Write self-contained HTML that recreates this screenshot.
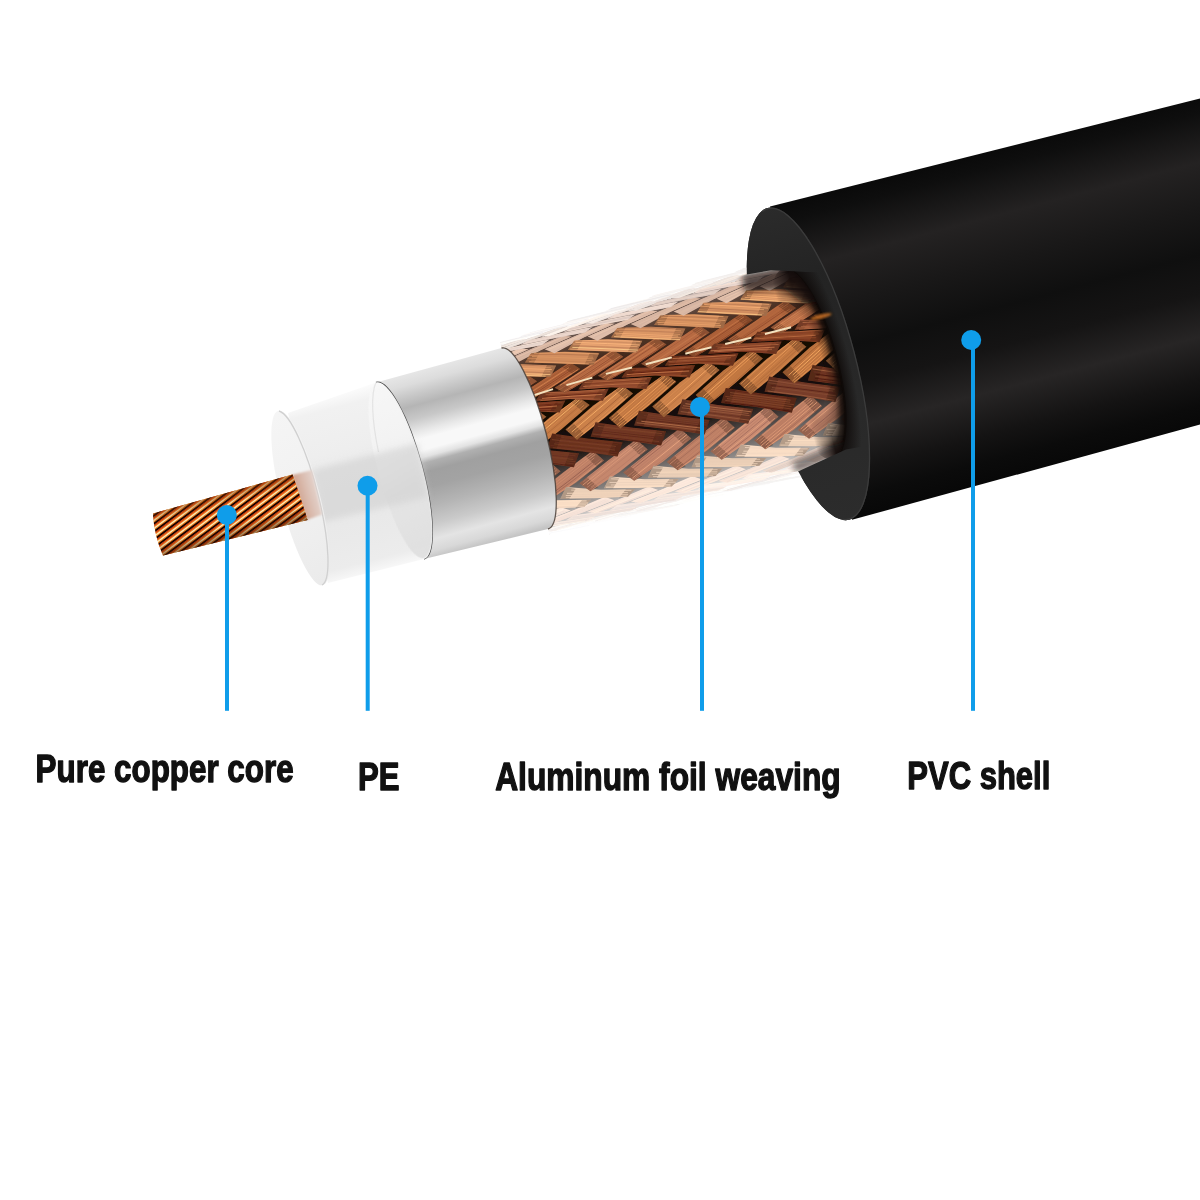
<!DOCTYPE html>
<html><head><meta charset="utf-8"><title>Cable structure</title>
<style>
html,body{margin:0;padding:0;background:#fff}
body{width:1200px;height:1200px;overflow:hidden;font-family:"Liberation Sans",sans-serif}
svg{display:block}
.t{font-family:"Liberation Sans",sans-serif;font-weight:bold;font-size:38.5px;fill:#111;stroke:#111;stroke-width:1.35px;stroke-linejoin:round}
</style></head><body>
<svg width="1200" height="1200" viewBox="0 0 1200 1200">
<defs>
<linearGradient id="gCap" gradientUnits="userSpaceOnUse" x1="280" y1="415" x2="322" y2="580">
 <stop offset="0" stop-color="#f5f5f5"/><stop offset="0.5" stop-color="#f1f1f1"/><stop offset="1" stop-color="#ebebeb"/>
</linearGradient>
<clipPath id="cCore"><path d="M153,513.5 L292.5,474.5 Q300,495 307.5,520 L163,555.5 Q154,535 153,513.5 Z"/></clipPath>

<linearGradient id="gCoreShade" gradientUnits="userSpaceOnUse" x1="225" y1="494" x2="236" y2="537">
 <stop offset="0" stop-color="#7a3208" stop-opacity="0.45"/><stop offset="0.25" stop-color="#7a3208" stop-opacity="0"/>
 <stop offset="0.7" stop-color="#3a1402" stop-opacity="0"/><stop offset="1" stop-color="#3a1402" stop-opacity="0.5"/>
</linearGradient>

<linearGradient id="gShell" gradientUnits="userSpaceOnUse" x1="1000" y1="148.6" x2="1080.7" y2="457.1">
 <stop offset="0" stop-color="#0a0a0a"/>
 <stop offset="0.05" stop-color="#0e0e0e"/>
 <stop offset="0.20" stop-color="#242222"/>
 <stop offset="0.34" stop-color="#191818"/>
 <stop offset="0.48" stop-color="#0f0f0f"/>
 <stop offset="0.60" stop-color="#151414"/>
 <stop offset="0.73" stop-color="#272525"/>
 <stop offset="0.86" stop-color="#141313"/>
 <stop offset="0.94" stop-color="#0b0b0b"/>
 <stop offset="1" stop-color="#080808"/>
</linearGradient>
<linearGradient id="gFace" gradientUnits="userSpaceOnUse" x1="760" y1="210" x2="850" y2="520">
 <stop offset="0" stop-color="#2b2b2b"/>
 <stop offset="0.25" stop-color="#232323"/>
 <stop offset="0.8" stop-color="#2a2a2a"/>
 <stop offset="1" stop-color="#2c2c2c"/>
</linearGradient>
<linearGradient id="gSilver" gradientUnits="userSpaceOnUse" x1="440" y1="364.9" x2="488.5" y2="543.4"><stop offset="0" stop-color="#e6e6e6"/><stop offset="0.06" stop-color="#dcdcdc"/><stop offset="0.115" stop-color="#c9c9c9"/><stop offset="0.176" stop-color="#b5b5b5"/><stop offset="0.246" stop-color="#c8c8c8"/><stop offset="0.317" stop-color="#e8e8e8"/><stop offset="0.36" stop-color="#f8f8f8"/><stop offset="0.42" stop-color="#f8f8f8"/><stop offset="0.458" stop-color="#e2e2e2"/><stop offset="0.49" stop-color="#b0b0b0"/><stop offset="0.54" stop-color="#a0a0a0"/><stop offset="0.62" stop-color="#a3a3a3"/><stop offset="0.72" stop-color="#b4b4b4"/><stop offset="0.82" stop-color="#cacaca"/><stop offset="0.9" stop-color="#e4e4e4"/><stop offset="0.96" stop-color="#d8d8d8"/><stop offset="1.0" stop-color="#c4c4c4"/></linearGradient>
<linearGradient id="gPE" gradientUnits="userSpaceOnUse" x1="330" y1="396" x2="376" y2="572">
 <stop offset="0" stop-color="#fbfbfb"/>
 <stop offset="0.07" stop-color="#f1f1f1"/>
 <stop offset="0.3" stop-color="#eeeeee"/>
 <stop offset="0.42" stop-color="#eaeaea"/>
 <stop offset="0.6" stop-color="#e8e8e8"/>
 <stop offset="0.8" stop-color="#eaeaea"/>
 <stop offset="0.93" stop-color="#ececec"/>
 <stop offset="1" stop-color="#f8f8f8"/>
</linearGradient>
<radialGradient id="gAO" cx="0.5" cy="0.5" r="0.5"><stop offset="0.70" stop-color="#100c0b" stop-opacity="0.95"/><stop offset="0.82" stop-color="#100c0b" stop-opacity="0.55"/><stop offset="1" stop-color="#100c0b" stop-opacity="0"/></radialGradient><clipPath id="cBraid"><polygon points="884.5,654.1 732.3,73.7 494.9,322.3 554.6,554.7"/><ellipse cx="808.4" cy="363.9" rx="28.8585" ry="97.46549999999999" transform="rotate(-14.7 808.4 363.9)"/></clipPath><linearGradient id="gBraidBg" gradientUnits="userSpaceOnUse" x1="623.9" y1="310.9" x2="673.7" y2="499.4"><stop offset="0.000" stop-color="#e2dedc"/><stop offset="0.000" stop-color="#b0a6a2"/><stop offset="0.025" stop-color="#80706a"/><stop offset="0.062" stop-color="#604c44"/><stop offset="0.143" stop-color="#54382a"/><stop offset="0.255" stop-color="#3c2216"/><stop offset="0.345" stop-color="#1a0c06"/><stop offset="0.465" stop-color="#140a05"/><stop offset="0.615" stop-color="#180e0a"/><stop offset="0.760" stop-color="#56504e"/><stop offset="0.880" stop-color="#969290"/><stop offset="0.945" stop-color="#c4c0be"/><stop offset="0.985" stop-color="#e6e4e2"/><stop offset="1.000" stop-color="#f6f5f4"/><stop offset="1.000" stop-color="#fcfcfc"/></linearGradient><filter id="fBlur3" x="-30%" y="-30%" width="160%" height="160%"><feGaussianBlur stdDeviation="3"/></filter><filter id="fSoft" x="-5%" y="-5%" width="110%" height="110%"><feGaussianBlur stdDeviation="0.45"/></filter><clipPath id="cHole"><ellipse cx="808.4" cy="363.9" rx="28.8585" ry="97.46549999999999" transform="rotate(-14.7 808.4 363.9)"/></clipPath><clipPath id="cRight"><polygon points="878.5,654.1 726.3,73.7 1000,0 1000,800"/></clipPath><radialGradient id="gHole" cx="0.5" cy="0.5" r="0.5"><stop offset="0" stop-color="#0d0806" stop-opacity="0"/><stop offset="0.50" stop-color="#0d0806" stop-opacity="0"/><stop offset="0.72" stop-color="#0d0806" stop-opacity="0.35"/><stop offset="0.88" stop-color="#0d0806" stop-opacity="0.85"/><stop offset="1" stop-color="#0d0806" stop-opacity="1"/></radialGradient><linearGradient id="gMaskR" gradientUnits="userSpaceOnUse" x1="794.9" y1="367.5" x2="812.3" y2="362.9"><stop offset="0" stop-color="#000"/><stop offset="1" stop-color="#fff"/></linearGradient><mask id="mRight" maskUnits="userSpaceOnUse" x="600" y="100" width="400" height="500"><rect x="600" y="100" width="400" height="500" fill="url(#gMaskR)"/></mask><clipPath id="cBody"><polygon points="501,347.5 880,234.4 930,440 880,452.3 548,529"/></clipPath><clipPath id="cFace"><ellipse cx="808.4" cy="363.9" rx="47.7" ry="161.1" transform="rotate(-14.7 808.4 363.9)"/></clipPath><linearGradient id="gRing" gradientUnits="userSpaceOnUse" x1="378" y1="386" x2="424" y2="556"><stop offset="0" stop-color="#f8f8f8"/><stop offset="0.42" stop-color="#f3f3f3"/><stop offset="0.6" stop-color="#e4e4e4"/><stop offset="1" stop-color="#dedede"/></linearGradient><linearGradient id="gPink" gradientUnits="userSpaceOnUse" x1="296" y1="498" x2="322" y2="491"><stop offset="0" stop-color="#cfa08c"/><stop offset="0.5" stop-color="#dcc0b4"/><stop offset="1" stop-color="#e8dcd8"/></linearGradient><filter id="fBlur1" x="-20%" y="-20%" width="140%" height="140%"><feGaussianBlur stdDeviation="1"/></filter></defs>
<rect width="1200" height="1200" fill="#fff"/>
<path d="M770,206.6 L1200,98.5 L1200,424.5 L852,519.8 Z" fill="url(#gShell)"/>
<ellipse cx="808.4" cy="363.9" rx="47.7" ry="161.1" transform="rotate(-14.7 808.4 363.9)" fill="url(#gFace)"/>
<ellipse cx="808.4" cy="363.9" rx="41.022" ry="138.546" transform="rotate(-14.7 808.4 363.9)" fill="url(#gAO)"/>
<ellipse cx="808.4" cy="363.9" rx="28.8585" ry="97.46549999999999" transform="rotate(-14.7 808.4 363.9)" fill="#0f0a08"/>
<g clip-path="url(#cBraid)"><g filter="url(#fSoft)">
<path d="M470,356.7 L870,237.4 L925,441.9 L520,535.5 Z" fill="url(#gBraidBg)"/>
<polygon points="488.1,545.1 520.7,539 553.2,532.9 545.1,535.4 512.7,542.1 480.1,548.2" fill="#f9f7f5"/>
<path d="M490,544.9 L520.1,539.3 L550.3,533.6" stroke="#fcfaf7" stroke-width="1" fill="none" opacity="0.8"/>
<path d="M488.4,545.6 L519.2,539.9 L549.9,534.1" stroke="#ececee" stroke-width="1" fill="none" opacity="0.8"/>
<path d="M487.5,546.2 L517.2,540.6 L546.9,535" stroke="#f2f1f1" stroke-width="1" fill="none" opacity="0.8"/>
<path d="M486.4,546.8 L515.1,541.4 L543.7,535.8" stroke="#fffffa" stroke-width="1" fill="none" opacity="0.8"/>
<polygon points="501.7,541.9 533.6,533.1 565.3,523.8 574.1,523.7 542.2,532.4 510.4,541.1" fill="#fcf6f2"/>
<path d="M506.1,540.9 L535.9,532.7 L565.7,524.1" stroke="#fff9f4" stroke-width="1" fill="none" opacity="0.8"/>
<path d="M509.4,540.4 L537.7,532.6 L566,524.8" stroke="#fffbf5" stroke-width="1" fill="none" opacity="0.8"/>
<path d="M510.6,540.5 L540.6,532.2 L570.5,524" stroke="#fffcf6" stroke-width="1" fill="none" opacity="0.8"/>
<path d="M512.3,540.4 L541.9,532.3 L571.5,524.2" stroke="#eeeaea" stroke-width="1" fill="none" opacity="0.8"/>
<polygon points="532,535 564.6,528.9 597.1,522.8 589,525.4 556.6,532 524,538.1" fill="#ffffff"/>
<path d="M533.5,534.9 L562.9,529.4 L592.4,523.9" stroke="#ffffff" stroke-width="1" fill="none" opacity="0.8"/>
<path d="M532.8,535.4 L561,530.2 L589.3,524.9" stroke="#ffffff" stroke-width="1" fill="none" opacity="0.8"/>
<path d="M531.2,536.1 L560.5,530.7 L589.8,525.2" stroke="#ffffff" stroke-width="1" fill="none" opacity="0.8"/>
<path d="M529.6,536.8 L559.6,531.2 L589.5,525.3" stroke="#fafafb" stroke-width="1" fill="none" opacity="0.8"/>
<polygon points="545.6,531.8 577.5,523 609.2,513.6 618,513.5 586.1,522.3 554.2,531.1" fill="#f7f1ed"/>
<path d="M551.7,530.3 L579.9,522.5 L608.1,514.4" stroke="#faf4ef" stroke-width="1" fill="none" opacity="0.8"/>
<path d="M550.4,531.1 L580.2,522.9 L609.9,514.7" stroke="#f4eeeb" stroke-width="1" fill="none" opacity="0.8"/>
<path d="M552.8,530.8 L582.3,522.7 L611.7,514.6" stroke="#f9f3ee" stroke-width="1" fill="none" opacity="0.8"/>
<path d="M557.8,529.9 L585.6,522.2 L613.4,514.6" stroke="#fffbf4" stroke-width="1" fill="none" opacity="0.8"/>
<polygon points="575.9,524.9 608.4,518.8 641,512.8 632.9,515.3 600.4,521.9 567.9,528" fill="#ffffff"/>
<path d="M580.1,524.3 L608.3,519 L636.5,513.8" stroke="#fbfafb" stroke-width="1" fill="none" opacity="0.8"/>
<path d="M577.4,525.2 L605.2,520 L632.9,514.9" stroke="#ffffff" stroke-width="1" fill="none" opacity="0.8"/>
<path d="M573.9,526.3 L603.1,520.8 L632.3,515.4" stroke="#fcfcfc" stroke-width="1" fill="none" opacity="0.8"/>
<path d="M573.2,526.8 L602.1,521.4 L630.9,515.8" stroke="#fefdfd" stroke-width="1" fill="none" opacity="0.8"/>
<polygon points="485.7,535.7 518.8,531.6 551.7,526.8 543.8,530.6 511.1,535.9 478.2,540.8" fill="#eee0d8"/>
<path d="M489.4,536 L517.5,532.2 L545.5,528.1" stroke="#e3d6d2" stroke-width="1" fill="none" opacity="0.8"/>
<path d="M487.3,537.5 L516.9,533.1 L546.6,528.8" stroke="#e4d8d3" stroke-width="1" fill="none" opacity="0.8"/>
<path d="M482.7,539 L512.7,534.5 L542.8,530.1" stroke="#f9e9de" stroke-width="1" fill="none" opacity="0.8"/>
<path d="M479.4,540.2 L510.6,535.6 L541.6,530.8" stroke="#e1d5d1" stroke-width="1" fill="none" opacity="0.8"/>
<polygon points="589.5,521.7 621.3,512.9 653,503.5 661.8,503.4 630,512.2 598.1,521" fill="#fffaf6"/>
<path d="M592.3,521.1 L621,513.2 L649.7,505" stroke="#fffffd" stroke-width="1" fill="none" opacity="0.8"/>
<path d="M595.3,520.7 L623.3,513 L651.3,505.2" stroke="#fbf5f3" stroke-width="1" fill="none" opacity="0.8"/>
<path d="M595.3,521.1 L625.4,512.8 L655.5,504.5" stroke="#f3efef" stroke-width="1" fill="none" opacity="0.8"/>
<path d="M598.1,520.8 L628.4,512.4 L658.6,504.1" stroke="#fffdf8" stroke-width="1" fill="none" opacity="0.8"/>
<polygon points="619.7,514.7 652.3,508.7 684.9,502.7 676.8,505.3 644.3,511.9 611.8,517.9" fill="#f8f6f4"/>
<path d="M619,515.1 L649.1,509.5 L679.3,503.9" stroke="#f3f1f1" stroke-width="1" fill="none" opacity="0.8"/>
<path d="M621.8,515 L649.5,509.9 L677.2,504.8" stroke="#f4f3f2" stroke-width="1" fill="none" opacity="0.8"/>
<path d="M617.2,516.3 L647.2,510.7 L677.2,505.2" stroke="#fcf9f6" stroke-width="1" fill="none" opacity="0.8"/>
<path d="M615.9,516.9 L645.4,511.5 L674.9,505.7" stroke="#fbf9f6" stroke-width="1" fill="none" opacity="0.8"/>
<polygon points="499.3,532.4 530.3,520.4 561,507.2 570.7,510.5 539.7,522.5 508.4,533.7" fill="#fce8dc"/>
<path d="M503,531.6 L531.7,520.6 L560.2,508.8" stroke="#ffeddf" stroke-width="1" fill="none" opacity="0.8"/>
<path d="M504,532.7 L533.7,521.3 L563.3,509.6" stroke="#fff3e3" stroke-width="1" fill="none" opacity="0.8"/>
<path d="M507.7,532.6 L536.1,521.8 L564.4,510.8" stroke="#eedcd4" stroke-width="1" fill="none" opacity="0.8"/>
<path d="M509.4,532.9 L538.1,522.4 L566.6,511.4" stroke="#eeddd5" stroke-width="1" fill="none" opacity="0.8"/>
<polygon points="529.6,525.5 562.6,521.4 595.5,516.6 587.7,520.4 555,525.8 522.1,530.6" fill="#f8eae2"/>
<path d="M532.1,525.9 L563.2,521.7 L594.2,517.2" stroke="#fcede4" stroke-width="1" fill="none" opacity="0.8"/>
<path d="M529.3,527.5 L559.2,523.1 L589,518.8" stroke="#f4e7e0" stroke-width="1" fill="none" opacity="0.8"/>
<path d="M528.7,528.4 L557.8,524.2 L586.8,520" stroke="#ebdfdb" stroke-width="1" fill="none" opacity="0.8"/>
<path d="M523.4,530 L554.3,525.5 L585.1,520.7" stroke="#fff5e9" stroke-width="1" fill="none" opacity="0.8"/>
<polygon points="633.3,511.6 665.2,502.7 696.9,493.3 705.7,493.3 673.8,502.1 642,510.9" fill="#f8f2ee"/>
<path d="M636.8,510.8 L665.9,502.8 L695,494.4" stroke="#f2edeb" stroke-width="1" fill="none" opacity="0.8"/>
<path d="M638.5,510.8 L668.6,502.5 L698.7,494.1" stroke="#f4eeec" stroke-width="1" fill="none" opacity="0.8"/>
<path d="M641.8,510.3 L671.4,502.1 L700.9,493.9" stroke="#f4efec" stroke-width="1" fill="none" opacity="0.8"/>
<path d="M644.9,509.9 L674.7,501.6 L704.5,493.4" stroke="#f9f3ef" stroke-width="1" fill="none" opacity="0.8"/>
<polygon points="663.6,504.6 696.2,498.6 728.8,492.6 720.6,495.2 688.2,501.8 655.6,507.8" fill="#fffffe"/>
<path d="M664.2,504.7 L695.4,499 L726.6,493.2" stroke="#ffffff" stroke-width="1" fill="none" opacity="0.8"/>
<path d="M661.9,505.6 L693.3,499.8 L724.8,494" stroke="#fffffd" stroke-width="1" fill="none" opacity="0.8"/>
<path d="M662.3,506 L692.8,500.3 L723.2,494.6" stroke="#fdfcfb" stroke-width="1" fill="none" opacity="0.8"/>
<path d="M658.4,507.1 L687.9,501.7 L717.3,496" stroke="#fffffd" stroke-width="1" fill="none" opacity="0.8"/>
<polygon points="543.1,522.1 574.1,510.1 604.8,496.8 614.5,500.2 583.5,512.3 552.3,523.5" fill="#fae6da"/>
<path d="M545.1,522.1 L574.9,510.5 L604.4,498.2" stroke="#ffeadd" stroke-width="1" fill="none" opacity="0.8"/>
<path d="M551.1,521.2 L578.7,510.5 L606.3,499.6" stroke="#f3e0d6" stroke-width="1" fill="none" opacity="0.8"/>
<path d="M549.5,523.1 L579,511.8 L608.3,500.4" stroke="#f2dfd6" stroke-width="1" fill="none" opacity="0.8"/>
<path d="M555.3,522.1 L582.2,512 L609.1,501.6" stroke="#f2dfd6" stroke-width="1" fill="none" opacity="0.8"/>
<polygon points="573.4,515.2 606.5,511.2 639.4,506.5 631.6,510.3 598.8,515.6 565.9,520.4" fill="#f2e4dc"/>
<path d="M576.8,515.6 L605.9,511.7 L635,507.5" stroke="#fbebe1" stroke-width="1" fill="none" opacity="0.8"/>
<path d="M572.5,517.3 L604.2,512.8 L635.8,508.3" stroke="#ecdfd9" stroke-width="1" fill="none" opacity="0.8"/>
<path d="M573,518.2 L603.1,513.8 L633.1,509.4" stroke="#eee0da" stroke-width="1" fill="none" opacity="0.8"/>
<path d="M569.1,519.5 L599.8,515.1 L630.4,510.3" stroke="#efe2db" stroke-width="1" fill="none" opacity="0.8"/>
<polygon points="677.2,501.4 709.1,492.6 740.7,483.2 749.5,483.2 717.7,492 685.9,500.8" fill="#fffefa"/>
<path d="M679.1,501.1 L710.5,492.4 L741.8,483.2" stroke="#ffffff" stroke-width="1" fill="none" opacity="0.8"/>
<path d="M685,500 L712,492.5 L739.1,485" stroke="#fffcf9" stroke-width="1" fill="none" opacity="0.8"/>
<path d="M687.5,499.7 L714.5,492.2 L741.5,484.7" stroke="#fcf7f5" stroke-width="1" fill="none" opacity="0.8"/>
<path d="M688.6,499.8 L716.4,492.1 L744.2,484.4" stroke="#fffffc" stroke-width="1" fill="none" opacity="0.8"/>
<polygon points="707.5,494.5 740.1,488.5 772.7,482.6 764.5,485.2 732.1,491.7 699.5,497.7" fill="#fefcfa"/>
<path d="M708,494.7 L738.9,489 L769.9,483.3" stroke="#f7f6f6" stroke-width="1" fill="none" opacity="0.8"/>
<path d="M704.8,495.7 L735.7,490 L766.6,484.3" stroke="#f8f7f7" stroke-width="1" fill="none" opacity="0.8"/>
<path d="M706.8,495.8 L737.1,490.2 L767.4,484.5" stroke="#ffffff" stroke-width="1" fill="none" opacity="0.8"/>
<path d="M704.1,496.7 L732.5,491.5 L760.8,486" stroke="#ffffff" stroke-width="1" fill="none" opacity="0.8"/>
<polygon points="478.7,508.4 513.4,510.7 547.4,510.1 540.4,517.4 506.8,519.1 472.9,519.8" fill="#f9ddc5"/>
<polygon points="478.7,508.4 488.2,510.1 481.9,519.6 472.9,519.8" fill="#1a0a04" opacity="0.28"/>
<polygon points="538.3,510.3 547.4,510.1 540.4,517.4 531.6,518.3" fill="#1a0a04" opacity="0.28"/>
<path d="M481.4,510.9 L514.1,511.8 L546.5,511.2" stroke="#ffe3c9" stroke-width="1" fill="none" opacity="0.8"/>
<path d="M477.8,514.1 L510.6,513.9 L543.2,513.3" stroke="#fee1c8" stroke-width="1" fill="none" opacity="0.8"/>
<path d="M478.2,516.6 L509.6,516 L540.9,515.4" stroke="#ffe8cc" stroke-width="1" fill="none" opacity="0.8"/>
<path d="M477,518.7 L508.3,518.1 L539.5,516.8" stroke="#f2d7c1" stroke-width="1" fill="none" opacity="0.8"/>
<polygon points="586.9,511.9 617.9,499.8 648.6,486.4 658.3,489.9 627.3,502 596.1,513.3" fill="#fbe7db"/>
<path d="M590.5,511.2 L618.3,500.4 L646,488.9" stroke="#f6e3d8" stroke-width="1" fill="none" opacity="0.8"/>
<path d="M591.4,512.3 L620.6,501 L649.7,489.5" stroke="#ffeedf" stroke-width="1" fill="none" opacity="0.8"/>
<path d="M593.6,512.8 L622.2,501.8 L650.8,490.6" stroke="#fff1e1" stroke-width="1" fill="none" opacity="0.8"/>
<path d="M599.1,511.9 L626.1,501.7 L653,491.2" stroke="#eddbd3" stroke-width="1" fill="none" opacity="0.8"/>
<polygon points="617.2,505 650.3,501 683.2,496.3 675.4,500.2 642.7,505.5 609.7,510.2" fill="#f8eae2"/>
<path d="M620.9,505.3 L651.5,501.3 L682,496.9" stroke="#f2e5df" stroke-width="1" fill="none" opacity="0.8"/>
<path d="M615.9,507.2 L646.8,502.8 L677.6,498.4" stroke="#f6e8e1" stroke-width="1" fill="none" opacity="0.8"/>
<path d="M615.1,508.2 L644.7,503.9 L674.3,499.7" stroke="#eadedb" stroke-width="1" fill="none" opacity="0.8"/>
<path d="M611,509.6 L643.4,505 L675.8,499.9" stroke="#eee1dd" stroke-width="1" fill="none" opacity="0.8"/>
<polygon points="721.1,491.3 752.9,482.5 784.6,473 793.4,473 761.6,481.9 729.7,490.7" fill="#f4eeea"/>
<path d="M727.2,489.9 L754.3,482.3 L781.4,474.5" stroke="#e9e4e4" stroke-width="1" fill="none" opacity="0.8"/>
<path d="M726.9,490.4 L756.6,482.1 L786.3,473.8" stroke="#efeae7" stroke-width="1" fill="none" opacity="0.8"/>
<path d="M728.3,490.5 L757.6,482.3 L786.8,474.2" stroke="#f7f0ec" stroke-width="1" fill="none" opacity="0.8"/>
<path d="M730.5,490.3 L760.9,481.8 L791.3,473.4" stroke="#efeae8" stroke-width="1" fill="none" opacity="0.8"/>
<polygon points="751.4,484.4 783.9,478.5 816.5,472.5 808.4,475.1 776,481.7 743.4,487.7" fill="#f7f5f3"/>
<path d="M753.3,484.3 L782.5,478.9 L811.8,473.6" stroke="#f4f2f1" stroke-width="1" fill="none" opacity="0.8"/>
<path d="M748.8,485.6 L780.7,479.7 L812.6,473.9" stroke="#f4f2f1" stroke-width="1" fill="none" opacity="0.8"/>
<path d="M749.5,485.9 L778.5,480.6 L807.4,475.3" stroke="#f4f2f1" stroke-width="1" fill="none" opacity="0.8"/>
<path d="M748.6,486.5 L777.4,481.2 L806.2,475.6" stroke="#f5f4f2" stroke-width="1" fill="none" opacity="0.8"/>
<polygon points="492.1,504.5 520.5,482.6 549.1,461.5 560.5,471.3 532.2,493.5 502.9,512.3" fill="#c2846a"/>
<polygon points="492.1,504.5 499.7,498.7 511,508.4 502.9,512.3" fill="#1a0a04" opacity="0.28"/>
<polygon points="541.5,466.7 549.1,461.5 560.5,471.3 553,477.2" fill="#1a0a04" opacity="0.28"/>
<path d="M495.2,503.6 L520.9,483.7 L546.6,464.3" stroke="#ba7d66" stroke-width="1" fill="none" opacity="0.8"/>
<path d="M497.8,504.4 L523.6,484.5 L549.4,464.7" stroke="#aa705d" stroke-width="1" fill="none" opacity="0.8"/>
<path d="M498.7,506.5 L524.3,486.7 L549.8,466.7" stroke="#9a6254" stroke-width="1" fill="none" opacity="0.8"/>
<path d="M499.9,508.4 L526.3,488 L552.7,467.3" stroke="#e5a17d" stroke-width="1" fill="none" opacity="0.8"/>
<path d="M503.9,508.2 L529.3,488.6 L554.6,468.7" stroke="#e6a37e" stroke-width="1" fill="none" opacity="0.8"/>
<path d="M504.7,509.4 L530.9,490.2 L556.8,469.9" stroke="#be8168" stroke-width="1" fill="none" opacity="0.8"/>
<path d="M502.8,511.7 L529.7,493.9 L556,473.4" stroke="#d19072" stroke-width="1" fill="none" opacity="0.8"/>
<polygon points="522.4,497.8 557.1,500.2 591.1,499.7 584.2,507.1 550.5,508.7 516.6,509.3" fill="#f9ddc5"/>
<polygon points="522.4,497.8 531.9,499.5 525.6,509.1 516.6,509.3" fill="#1a0a04" opacity="0.28"/>
<polygon points="582.1,499.9 591.1,499.7 584.2,507.1 575.4,507.9" fill="#1a0a04" opacity="0.28"/>
<path d="M526.4,500.5 L556.7,501.3 L586.6,500.9" stroke="#ffe3c9" stroke-width="1" fill="none" opacity="0.8"/>
<path d="M523.8,504 L555.9,503.4 L588.1,503" stroke="#fbdfc6" stroke-width="1" fill="none" opacity="0.8"/>
<path d="M519.1,506.2 L552.6,505.5 L586.2,504.9" stroke="#ffe4c9" stroke-width="1" fill="none" opacity="0.8"/>
<path d="M517.6,508.3 L551.2,507.7 L584.6,506.4" stroke="#eed3bf" stroke-width="1" fill="none" opacity="0.8"/>
<polygon points="630.8,501.6 661.7,489.5 692.3,476 702.1,479.6 671.1,491.8 639.9,503.1" fill="#fbe7db"/>
<path d="M632.8,501.6 L663.3,489.6 L693.5,476.7" stroke="#ffefe0" stroke-width="1" fill="none" opacity="0.8"/>
<path d="M634.9,502.2 L663.4,491 L692,479.8" stroke="#ffebde" stroke-width="1" fill="none" opacity="0.8"/>
<path d="M640.8,501.4 L667.3,491 L693.8,480.6" stroke="#fde9dc" stroke-width="1" fill="none" opacity="0.8"/>
<path d="M642.9,501.7 L671.9,490.7 L700.7,479.3" stroke="#ffeddf" stroke-width="1" fill="none" opacity="0.8"/>
<polygon points="661,494.8 694.1,490.8 727.1,486.2 719.3,490.1 686.5,495.3 653.6,500" fill="#f6e8e0"/>
<path d="M664,495.2 L694.8,491.2 L725.6,486.8" stroke="#fdeee4" stroke-width="1" fill="none" opacity="0.8"/>
<path d="M663.3,496.5 L693.6,492.2 L723.9,487.9" stroke="#f1e4dd" stroke-width="1" fill="none" opacity="0.8"/>
<path d="M659.4,497.9 L688.7,493.7 L717.9,489.6" stroke="#efe2dc" stroke-width="1" fill="none" opacity="0.8"/>
<path d="M655.5,499.3 L687.3,494.8 L719,489.9" stroke="#f9ebe2" stroke-width="1" fill="none" opacity="0.8"/>
<polygon points="765,481.2 796.8,472.4 828.4,462.9 837.3,462.9 805.4,471.8 773.6,480.6" fill="#fffbf7"/>
<path d="M768.1,480.6 L797.9,472.3 L827.7,463.6" stroke="#fef8f5" stroke-width="1" fill="none" opacity="0.8"/>
<path d="M770,480.5 L799.9,472.2 L829.7,463.8" stroke="#f5f1f0" stroke-width="1" fill="none" opacity="0.8"/>
<path d="M772.9,480.1 L801,472.3 L829,464.5" stroke="#fef8f5" stroke-width="1" fill="none" opacity="0.8"/>
<path d="M776.4,479.6 L805.9,471.4 L835.4,463.2" stroke="#fffffa" stroke-width="1" fill="none" opacity="0.8"/>
<polygon points="795.2,474.3 827.8,468.4 860.4,462.4 852.3,465.1 819.9,471.6 787.3,477.6" fill="#ffffff"/>
<path d="M797.8,474.1 L827.2,468.7 L856.7,463.3" stroke="#fffffe" stroke-width="1" fill="none" opacity="0.8"/>
<path d="M795.6,474.9 L824.2,469.7 L852.7,464.5" stroke="#f9f8f9" stroke-width="1" fill="none" opacity="0.8"/>
<path d="M790.7,476.3 L821.1,470.7 L851.5,465.2" stroke="#ffffff" stroke-width="1" fill="none" opacity="0.8"/>
<path d="M791,476.7 L821,471.2 L851,465.3" stroke="#ffffff" stroke-width="1" fill="none" opacity="0.8"/>
<polygon points="535.8,493.9 564.1,471.7 592.7,450.4 604.1,460.4 575.8,482.8 546.7,501.8" fill="#be8066"/>
<polygon points="535.8,493.9 543.3,488 554.7,497.8 546.7,501.8" fill="#1a0a04" opacity="0.28"/>
<polygon points="585,455.7 592.7,450.4 604.1,460.4 596.6,466.4" fill="#1a0a04" opacity="0.28"/>
<path d="M537.9,493.7 L565.1,472.4 L592.5,451.6" stroke="#c6876b" stroke-width="1" fill="none" opacity="0.8"/>
<path d="M539.7,495.1 L566.8,473.9 L594,453" stroke="#d08f70" stroke-width="1" fill="none" opacity="0.8"/>
<path d="M544.3,494.4 L569.8,474.5 L595.3,454.4" stroke="#d19071" stroke-width="1" fill="none" opacity="0.8"/>
<path d="M543.5,497.9 L569,478 L594.3,457.9" stroke="#c6876b" stroke-width="1" fill="none" opacity="0.8"/>
<path d="M544.4,499.5 L571.8,478.7 L598.9,457.2" stroke="#925b4e" stroke-width="1" fill="none" opacity="0.8"/>
<path d="M546.9,499.6 L573.5,480.2 L599.8,459.4" stroke="#a06756" stroke-width="1" fill="none" opacity="0.8"/>
<path d="M547.7,500.6 L575.1,481.9 L601.8,460.8" stroke="#d89674" stroke-width="1" fill="none" opacity="0.8"/>
<polygon points="566.1,487.1 600.9,489.7 634.9,489.3 628,496.8 594.3,498.3 560.3,498.8" fill="#ecd0b8"/>
<polygon points="566.1,487.1 575.6,488.9 569.3,498.7 560.3,498.8" fill="#1a0a04" opacity="0.28"/>
<polygon points="625.8,489.4 634.9,489.3 628,496.8 619.2,497.6" fill="#1a0a04" opacity="0.28"/>
<path d="M571.2,490.1 L601.4,490.8 L631.4,490.4" stroke="#eed2b9" stroke-width="1" fill="none" opacity="0.8"/>
<path d="M567,493.3 L597.4,493 L627.8,492.6" stroke="#f5d7bd" stroke-width="1" fill="none" opacity="0.8"/>
<path d="M565.8,495.6 L597,495.1 L628.1,494.7" stroke="#f2d5bb" stroke-width="1" fill="none" opacity="0.8"/>
<path d="M565.8,497.7 L596.4,497.2 L626.8,496.2" stroke="#f2d5bb" stroke-width="1" fill="none" opacity="0.8"/>
<polygon points="674.6,491.4 705.5,479.2 736.1,465.6 745.9,469.2 714.9,481.5 683.8,492.9" fill="#fce8dc"/>
<path d="M678.1,490.7 L707.3,479.2 L736.2,466.8" stroke="#f5e2d8" stroke-width="1" fill="none" opacity="0.8"/>
<path d="M681.7,490.8 L709.2,480 L736.6,469.1" stroke="#fff3e3" stroke-width="1" fill="none" opacity="0.8"/>
<path d="M684.7,491.1 L712.9,480 L741.1,468.8" stroke="#f4e1d8" stroke-width="1" fill="none" opacity="0.8"/>
<path d="M684,492.4 L713.9,481.1 L743.7,469.3" stroke="#ffeddf" stroke-width="1" fill="none" opacity="0.8"/>
<polygon points="704.8,484.5 738,480.7 770.9,476 763.1,479.9 730.4,485.2 697.4,489.8" fill="#fceee6"/>
<path d="M708.8,484.9 L738.7,481 L768.6,476.8" stroke="#fff7ec" stroke-width="1" fill="none" opacity="0.8"/>
<path d="M703.8,486.7 L734.8,482.4 L765.8,478" stroke="#fff4ea" stroke-width="1" fill="none" opacity="0.8"/>
<path d="M700.7,488.1 L733.2,483.5 L765.6,478.8" stroke="#fff6ec" stroke-width="1" fill="none" opacity="0.8"/>
<path d="M699.9,489 L731.1,484.6 L762.3,479.9" stroke="#fff0e8" stroke-width="1" fill="none" opacity="0.8"/>
<polygon points="808.8,471.1 840.6,462.3 872.3,452.7 881.1,452.8 849.3,461.7 817.5,470.5" fill="#fff9f5"/>
<path d="M809.9,471.1 L840.9,462.4 L871.7,453.4" stroke="#fdf8f4" stroke-width="1" fill="none" opacity="0.8"/>
<path d="M814.6,470.2 L844.6,461.8 L874.6,453.3" stroke="#fffbf6" stroke-width="1" fill="none" opacity="0.8"/>
<path d="M819.1,469.4 L847.5,461.5 L875.9,453.6" stroke="#fffaf6" stroke-width="1" fill="none" opacity="0.8"/>
<path d="M817,470.5 L847.8,461.9 L878.6,453.2" stroke="#fffdf8" stroke-width="1" fill="none" opacity="0.8"/>
<polygon points="839.1,464.2 871.7,458.3 904.3,452.4 896.2,455 863.7,461.5 831.1,467.5" fill="#f7f5f3"/>
<path d="M842.8,463.8 L870.6,458.7 L898.5,453.7" stroke="#ecebed" stroke-width="1" fill="none" opacity="0.8"/>
<path d="M841.1,464.5 L870.2,459.2 L899.4,454" stroke="#fffcf7" stroke-width="1" fill="none" opacity="0.8"/>
<path d="M838.1,465.5 L867.9,460.1 L897.8,454.6" stroke="#fcf9f6" stroke-width="1" fill="none" opacity="0.8"/>
<path d="M835.6,466.4 L864.3,461.2 L893,455.7" stroke="#f0efef" stroke-width="1" fill="none" opacity="0.8"/>
<polygon points="465.4,456.5 500.6,461.1 535.5,464.4 530.3,478.2 495,473.6 460.2,470.5" fill="#793f2b"/>
<polygon points="465.4,456.5 474.8,458.2 469.4,471.3 460.2,470.5" fill="#1a0a04" opacity="0.28"/>
<polygon points="526.2,463.5 535.5,464.4 530.3,478.2 520.8,476.5" fill="#1a0a04" opacity="0.28"/>
<path d="M470.6,458.6 L501,462 L531.3,464.9" stroke="#7c412c" stroke-width="1" fill="none" opacity="0.8"/>
<path d="M465,460 L498.3,463.7 L531.5,466.8" stroke="#854931" stroke-width="1" fill="none" opacity="0.8"/>
<path d="M467.8,462.8 L498.7,465.6 L529.7,468.5" stroke="#7f442e" stroke-width="1" fill="none" opacity="0.8"/>
<path d="M464,464.3 L496.5,467.2 L529.1,470.3" stroke="#854931" stroke-width="1" fill="none" opacity="0.8"/>
<path d="M463.2,466.1 L495,469 L526.9,472" stroke="#a16141" stroke-width="1" fill="none" opacity="0.8"/>
<path d="M462.1,467.9 L493.9,470.7 L526,474" stroke="#582318" stroke-width="1" fill="none" opacity="0.8"/>
<path d="M462.4,469.8 L494.3,472.6 L526.5,476.4" stroke="#824630" stroke-width="1" fill="none" opacity="0.8"/>
<polygon points="579.5,483.2 607.7,460.8 636.2,439.3 647.7,449.5 619.5,472.1 590.4,491.2" fill="#c5876d"/>
<polygon points="579.5,483.2 587,477.3 598.4,487.3 590.4,491.2" fill="#1a0a04" opacity="0.28"/>
<polygon points="628.6,444.6 636.2,439.3 647.7,449.5 640.2,455.5" fill="#1a0a04" opacity="0.28"/>
<path d="M583.3,481.7 L609,461.3 L634.9,441.4" stroke="#b47863" stroke-width="1" fill="none" opacity="0.8"/>
<path d="M582.8,485 L610.5,463 L638.3,441.4" stroke="#d99878" stroke-width="1" fill="none" opacity="0.8"/>
<path d="M587.1,484.5 L612.4,464.5 L637.7,444.2" stroke="#db9a79" stroke-width="1" fill="none" opacity="0.8"/>
<path d="M587,487.5 L613.8,466.3 L640.6,444.8" stroke="#ba7e67" stroke-width="1" fill="none" opacity="0.8"/>
<path d="M591,487.3 L617.2,466.6 L643.3,445.6" stroke="#c5876d" stroke-width="1" fill="none" opacity="0.8"/>
<path d="M589.4,489.7 L615.8,470.6 L641.7,449.9" stroke="#b87c66" stroke-width="1" fill="none" opacity="0.8"/>
<path d="M591.3,490.1 L618.5,471.4 L645,450.2" stroke="#c98a6f" stroke-width="1" fill="none" opacity="0.8"/>
<polygon points="609.8,476.5 644.6,479.2 678.7,478.9 671.8,486.5 638.1,487.9 604,488.3" fill="#f7dbc3"/>
<polygon points="609.8,476.5 619.3,478.3 613.1,488.2 604,488.3" fill="#1a0a04" opacity="0.28"/>
<polygon points="669.6,479 678.7,478.9 671.8,486.5 663,487.3" fill="#1a0a04" opacity="0.28"/>
<path d="M611.2,478.8 L642.4,480.3 L673.2,480.1" stroke="#ecd2bd" stroke-width="1" fill="none" opacity="0.8"/>
<path d="M609.5,482.5 L642.6,482.5 L675.7,482.2" stroke="#ecd2bd" stroke-width="1" fill="none" opacity="0.8"/>
<path d="M610.8,485 L640.7,484.7 L670.6,484.4" stroke="#eed3be" stroke-width="1" fill="none" opacity="0.8"/>
<path d="M605.9,487.2 L638.2,486.8 L670.5,485.9" stroke="#fee1c7" stroke-width="1" fill="none" opacity="0.8"/>
<polygon points="718.4,481.1 749.3,468.9 779.9,455.2 789.7,458.9 758.8,471.3 727.6,482.7" fill="#fae6da"/>
<path d="M723.3,479.9 L750.9,469 L778.3,457.3" stroke="#f0ddd4" stroke-width="1" fill="none" opacity="0.8"/>
<path d="M723.9,481.2 L753.4,469.6 L782.7,457.6" stroke="#fae6da" stroke-width="1" fill="none" opacity="0.8"/>
<path d="M727.1,481.5 L756.1,470 L785.1,458.4" stroke="#f3e0d6" stroke-width="1" fill="none" opacity="0.8"/>
<path d="M730.5,481.3 L759.5,470.2 L788.3,458.7" stroke="#ffedde" stroke-width="1" fill="none" opacity="0.8"/>
<polygon points="748.7,474.3 781.8,470.5 814.8,465.9 807,469.8 774.2,475 741.3,479.6" fill="#fdefe7"/>
<path d="M752.9,474.6 L782.4,470.8 L811.8,466.7" stroke="#fff0e8" stroke-width="1" fill="none" opacity="0.8"/>
<path d="M749.1,476.4 L778.8,472.2 L808.6,468.1" stroke="#fffaee" stroke-width="1" fill="none" opacity="0.8"/>
<path d="M747.8,477.4 L778.1,473.2 L808.4,468.9" stroke="#fff8ed" stroke-width="1" fill="none" opacity="0.8"/>
<path d="M744.8,478.7 L774.8,474.5 L804.8,470" stroke="#fff4eb" stroke-width="1" fill="none" opacity="0.8"/>
<polygon points="852.7,461 884.5,452.1 916.1,442.6 925,442.7 893.2,451.6 861.4,460.5" fill="#f3ede9"/>
<path d="M857.7,459.9 L885.9,452 L913.9,443.8" stroke="#f3ede9" stroke-width="1" fill="none" opacity="0.8"/>
<path d="M858.6,460.1 L887.9,451.9 L917.2,443.6" stroke="#eae6e4" stroke-width="1" fill="none" opacity="0.8"/>
<path d="M860.8,459.9 L891.2,451.4 L921.5,442.9" stroke="#f3ede9" stroke-width="1" fill="none" opacity="0.8"/>
<path d="M863.6,459.6 L892.6,451.5 L921.6,443.4" stroke="#f5efea" stroke-width="1" fill="none" opacity="0.8"/>
<polygon points="883,454.1 915.6,448.2 948.2,442.3 940.1,444.9 907.6,451.5 875,457.4" fill="#ffffff"/>
<path d="M886.7,453.7 L916.6,448.3 L946.5,442.9" stroke="#ffffff" stroke-width="1" fill="none" opacity="0.8"/>
<path d="M883.3,454.8 L914.1,449.2 L944.9,443.6" stroke="#ffffff" stroke-width="1" fill="none" opacity="0.8"/>
<path d="M879.2,455.9 L911,450.2 L942.8,444.3" stroke="#ffffff" stroke-width="1" fill="none" opacity="0.8"/>
<path d="M880.9,456.1 L910.2,450.8 L939.4,445.1" stroke="#ffffff" stroke-width="1" fill="none" opacity="0.8"/>
<polygon points="478.7,452.3 506.7,428.9 535.5,409 546.3,416.8 518.4,440.4 490,462.2" fill="#ca804a"/>
<polygon points="478.7,452.3 486.1,446.1 497.7,457 490,462.2" fill="#1a0a04" opacity="0.28"/>
<polygon points="527.5,413 535.5,409 546.3,416.8 538.9,423.1" fill="#1a0a04" opacity="0.28"/>
<path d="M480.1,452.6 L505.9,431.1 L532.1,411.3" stroke="#d3874f" stroke-width="1" fill="none" opacity="0.8"/>
<path d="M485.4,451.3 L509.7,430.9 L534.1,411.5" stroke="#e09256" stroke-width="1" fill="none" opacity="0.8"/>
<path d="M484.4,455.1 L509.8,433.9 L535.1,412.4" stroke="#ffc375" stroke-width="1" fill="none" opacity="0.8"/>
<path d="M488.4,454.8 L513.5,433.8 L538.5,412.6" stroke="#ffb66d" stroke-width="1" fill="none" opacity="0.8"/>
<path d="M488.4,457.7 L515.1,435.6 L541.6,413" stroke="#9f5c32" stroke-width="1" fill="none" opacity="0.8"/>
<path d="M488,460.2 L515.6,438.2 L542.9,415" stroke="#aa6538" stroke-width="1" fill="none" opacity="0.8"/>
<path d="M491.6,460.1 L517.1,440 L542.4,418.6" stroke="#cd824b" stroke-width="1" fill="none" opacity="0.8"/>
<polygon points="508.8,445.1 544.1,449.8 579,453.3 573.9,467.3 538.6,462.5 503.6,459.2" fill="#733925"/>
<polygon points="508.8,445.1 518.3,446.8 512.9,460.1 503.6,459.2" fill="#1a0a04" opacity="0.28"/>
<polygon points="569.7,452.4 579,453.3 573.9,467.3 564.4,465.6" fill="#1a0a04" opacity="0.28"/>
<path d="M512.2,446.9 L544.6,450.8 L576.9,454.1" stroke="#6f3623" stroke-width="1" fill="none" opacity="0.8"/>
<path d="M512.1,449.3 L543.9,452.7 L575.6,455.8" stroke="#6f3623" stroke-width="1" fill="none" opacity="0.8"/>
<path d="M512.3,451.6 L542.6,454.4 L573,457.5" stroke="#662e1e" stroke-width="1" fill="none" opacity="0.8"/>
<path d="M508.5,453.1 L540.9,456.2 L573.3,459.4" stroke="#7b4029" stroke-width="1" fill="none" opacity="0.8"/>
<path d="M506.9,454.8 L541.2,458.1 L575.6,461.8" stroke="#723824" stroke-width="1" fill="none" opacity="0.8"/>
<path d="M509.2,456.9 L541.5,460 L574.1,463.9" stroke="#6f3523" stroke-width="1" fill="none" opacity="0.8"/>
<path d="M505.1,458.4 L538.9,461.6 L573,466" stroke="#541f14" stroke-width="1" fill="none" opacity="0.8"/>
<polygon points="623.2,472.6 651.3,450 679.8,428.3 691.3,438.6 663.2,461.4 634.1,480.7" fill="#c2846a"/>
<polygon points="623.2,472.6 630.7,466.6 642.1,476.7 634.1,480.7" fill="#1a0a04" opacity="0.28"/>
<polygon points="672.1,433.6 679.8,428.3 691.3,438.6 683.8,444.7" fill="#1a0a04" opacity="0.28"/>
<path d="M624.8,472.8 L652.5,450.5 L680.4,429" stroke="#9e6657" stroke-width="1" fill="none" opacity="0.8"/>
<path d="M626.4,474.4 L653.1,453 L679.9,431.8" stroke="#9a6254" stroke-width="1" fill="none" opacity="0.8"/>
<path d="M627.5,476.5 L654.6,454.8 L681.7,432.9" stroke="#ba7d66" stroke-width="1" fill="none" opacity="0.8"/>
<path d="M632.2,475.7 L658.7,454.5 L685.1,433" stroke="#b97d65" stroke-width="1" fill="none" opacity="0.8"/>
<path d="M632.4,478.1 L659.8,456.6 L686.9,434.6" stroke="#eda982" stroke-width="1" fill="none" opacity="0.8"/>
<path d="M633,479.2 L660.9,458.7 L688.3,436.5" stroke="#c08269" stroke-width="1" fill="none" opacity="0.8"/>
<path d="M634.2,480 L661.3,461.4 L687.6,440.1" stroke="#b47862" stroke-width="1" fill="none" opacity="0.8"/>
<polygon points="653.4,465.8 688.3,468.7 722.4,468.5 715.6,476.1 681.8,477.5 647.8,477.8" fill="#ebcfb7"/>
<polygon points="653.4,465.8 663,467.7 656.8,477.7 647.8,477.8" fill="#1a0a04" opacity="0.28"/>
<polygon points="713.4,468.6 722.4,468.5 715.6,476.1 706.7,476.9" fill="#1a0a04" opacity="0.28"/>
<path d="M653.1,467.8 L685.7,469.8 L717.6,469.7" stroke="#e5cab4" stroke-width="1" fill="none" opacity="0.8"/>
<path d="M656.2,472.3 L686.8,472 L717.4,471.9" stroke="#f7dabe" stroke-width="1" fill="none" opacity="0.8"/>
<path d="M651.9,474.5 L684.4,474.2 L717,473.9" stroke="#e5cab4" stroke-width="1" fill="none" opacity="0.8"/>
<path d="M653,476.6 L683.1,476.4 L713.1,475.7" stroke="#e7ccb5" stroke-width="1" fill="none" opacity="0.8"/>
<polygon points="762.2,470.9 793.1,458.6 823.6,444.8 833.4,448.6 802.6,461 771.5,472.5" fill="#edd9cd"/>
<path d="M766.8,469.8 L793.6,459.1 L820.2,447.9" stroke="#efdbce" stroke-width="1" fill="none" opacity="0.8"/>
<path d="M765.8,471.8 L796.6,459.5 L827.3,446.9" stroke="#e1cfc6" stroke-width="1" fill="none" opacity="0.8"/>
<path d="M768.9,471.9 L799.4,459.9 L829.7,447.7" stroke="#e0cec6" stroke-width="1" fill="none" opacity="0.8"/>
<path d="M773.6,471.3 L800.8,460.9 L827.8,450.1" stroke="#e4d2c8" stroke-width="1" fill="none" opacity="0.8"/>
<polygon points="792.5,464 825.7,460.3 858.6,455.7 850.9,459.7 818.1,464.9 785.1,469.4" fill="#fff1e9"/>
<path d="M794.2,464.6 L823.8,461 L853.4,456.9" stroke="#fffaef" stroke-width="1" fill="none" opacity="0.8"/>
<path d="M794.8,465.9 L825.2,461.7 L855.6,457.5" stroke="#f9ece6" stroke-width="1" fill="none" opacity="0.8"/>
<path d="M791.2,467.3 L820,463.3 L848.8,459.3" stroke="#f3e7e2" stroke-width="1" fill="none" opacity="0.8"/>
<path d="M787.6,468.6 L817.5,464.5 L847.4,460.1" stroke="#f4e7e3" stroke-width="1" fill="none" opacity="0.8"/>
<polygon points="522.1,440.9 550,417.2 578.8,397.2 589.7,405.1 561.8,429 533.5,451" fill="#c47a44"/>
<polygon points="522.1,440.9 529.5,434.6 541.2,445.7 533.5,451" fill="#1a0a04" opacity="0.28"/>
<polygon points="570.8,401.2 578.8,397.2 589.7,405.1 582.3,411.5" fill="#1a0a04" opacity="0.28"/>
<path d="M524.4,440.4 L550.1,418.7 L576.2,399.1" stroke="#eb9c5a" stroke-width="1" fill="none" opacity="0.8"/>
<path d="M525.4,442.7 L551.3,420.8 L577.3,399.7" stroke="#da8c50" stroke-width="1" fill="none" opacity="0.8"/>
<path d="M530.1,441.9 L554.9,420.9 L579.6,399.8" stroke="#ffbd6f" stroke-width="1" fill="none" opacity="0.8"/>
<path d="M529.6,445.3 L555.8,423.2 L581.9,400.8" stroke="#d3874c" stroke-width="1" fill="none" opacity="0.8"/>
<path d="M533.2,445.4 L558.3,424.2 L583.3,402.7" stroke="#af6838" stroke-width="1" fill="none" opacity="0.8"/>
<path d="M531.9,448.6 L558.1,427.5 L583.9,405.3" stroke="#ce8249" stroke-width="1" fill="none" opacity="0.8"/>
<path d="M536,448.1 L561.7,427.5 L587.1,405.7" stroke="#c37943" stroke-width="1" fill="none" opacity="0.8"/>
<polygon points="552.2,433.6 587.5,438.6 622.6,442.2 617.5,456.4 582.1,451.5 547.1,448" fill="#6e3420"/>
<polygon points="552.2,433.6 561.7,435.5 556.4,448.9 547.1,448" fill="#1a0a04" opacity="0.28"/>
<polygon points="613.3,441.3 622.6,442.2 617.5,456.4 608,454.6" fill="#1a0a04" opacity="0.28"/>
<path d="M556,435.6 L589.1,439.7 L622.1,443.2" stroke="#6b311e" stroke-width="1" fill="none" opacity="0.8"/>
<path d="M555.6,437.9 L586.6,441.4 L617.6,444.6" stroke="#632a1a" stroke-width="1" fill="none" opacity="0.8"/>
<path d="M551.9,439.6 L583.9,443 L615.9,446.4" stroke="#7b3f27" stroke-width="1" fill="none" opacity="0.8"/>
<path d="M554.8,442.1 L584.8,445 L614.9,448.2" stroke="#69301d" stroke-width="1" fill="none" opacity="0.8"/>
<path d="M554.1,443.9 L584.5,446.9 L614.9,450.1" stroke="#783d26" stroke-width="1" fill="none" opacity="0.8"/>
<path d="M550.4,445.4 L584.1,448.8 L618.1,453" stroke="#652c1b" stroke-width="1" fill="none" opacity="0.8"/>
<path d="M552.9,447.6 L584.9,450.8 L617.2,455.2" stroke="#743923" stroke-width="1" fill="none" opacity="0.8"/>
<polygon points="666.8,461.9 694.9,439.1 723.3,417.2 734.9,427.7 706.8,450.7 677.8,470.2" fill="#bd7f65"/>
<polygon points="666.8,461.9 674.3,455.9 685.8,466.2 677.8,470.2" fill="#1a0a04" opacity="0.28"/>
<polygon points="715.7,422.6 723.3,417.2 734.9,427.7 727.4,433.9" fill="#1a0a04" opacity="0.28"/>
<path d="M668,462.4 L694.5,441 L721.1,420" stroke="#a56b58" stroke-width="1" fill="none" opacity="0.8"/>
<path d="M669.6,464.2 L697.3,441.8 L725,419.7" stroke="#ca8a6c" stroke-width="1" fill="none" opacity="0.8"/>
<path d="M673.7,463.9 L700.5,442.2 L727.2,420.5" stroke="#a46a57" stroke-width="1" fill="none" opacity="0.8"/>
<path d="M677.1,464.1 L702.6,443.5 L727.9,422.7" stroke="#c38468" stroke-width="1" fill="none" opacity="0.8"/>
<path d="M676.3,467.5 L701.8,447.2 L727.1,426.4" stroke="#c7876a" stroke-width="1" fill="none" opacity="0.8"/>
<path d="M679.5,467.3 L704.9,447.8 L729.9,427.2" stroke="#a06755" stroke-width="1" fill="none" opacity="0.8"/>
<path d="M678,469.4 L706.2,449.7 L733.7,427.2" stroke="#db9875" stroke-width="1" fill="none" opacity="0.8"/>
<polygon points="697.1,455.2 732.1,458.2 766.2,458.1 759.4,465.8 725.6,467.1 691.5,467.3" fill="#ebcfb7"/>
<polygon points="697.1,455.2 706.7,457.1 700.5,467.2 691.5,467.3" fill="#1a0a04" opacity="0.28"/>
<polygon points="757.1,458.1 766.2,458.1 759.4,465.8 750.5,466.6" fill="#1a0a04" opacity="0.28"/>
<path d="M696.7,457.2 L728.7,459.3 L760.1,459.3" stroke="#e3c8b2" stroke-width="1" fill="none" opacity="0.8"/>
<path d="M700.5,461.7 L731.8,461.5 L763.3,461.5" stroke="#eaceb6" stroke-width="1" fill="none" opacity="0.8"/>
<path d="M695.1,464 L726.3,463.8 L757.6,463.7" stroke="#eed2b9" stroke-width="1" fill="none" opacity="0.8"/>
<path d="M695.8,466.1 L726.1,466 L756.2,465.4" stroke="#f5d8bd" stroke-width="1" fill="none" opacity="0.8"/>
<polygon points="806,460.6 836.9,448.2 867.4,434.5 877.2,438.3 846.4,450.8 815.3,462.3" fill="#f1ddd1"/>
<path d="M810.2,459.7 L838.5,448.4 L866.5,436.2" stroke="#e6d4cb" stroke-width="1" fill="none" opacity="0.8"/>
<path d="M813.7,459.9 L841.1,448.9 L868.3,437.9" stroke="#fae5d6" stroke-width="1" fill="none" opacity="0.8"/>
<path d="M813,461.7 L842,450.1 L871,438.4" stroke="#f0dcd1" stroke-width="1" fill="none" opacity="0.8"/>
<path d="M817.8,461 L846.8,449.8 L875.7,438.1" stroke="#eddacf" stroke-width="1" fill="none" opacity="0.8"/>
<polygon points="836.3,453.8 869.5,450.1 902.5,445.6 894.7,449.6 861.9,454.7 828.9,459.2" fill="#f6e8e0"/>
<path d="M835.8,454.6 L867.3,450.8 L898.6,446.6" stroke="#fcede3" stroke-width="1" fill="none" opacity="0.8"/>
<path d="M835.9,456 L866,451.9 L896.2,447.8" stroke="#f9eae1" stroke-width="1" fill="none" opacity="0.8"/>
<path d="M832.9,457.4 L864.4,453 L895.9,448.7" stroke="#fff4e7" stroke-width="1" fill="none" opacity="0.8"/>
<path d="M831.7,458.4 L862.6,454.2 L893.5,449.6" stroke="#eaded9" stroke-width="1" fill="none" opacity="0.8"/>
<polygon points="455,416.1 488.7,414.9 522,412.4 516.3,424.2 481.9,422.8 448.6,425.4" fill="#894327"/>
<polygon points="455,416.1 464.1,416.3 457.5,424.7 448.6,425.4" fill="#1a0a04" opacity="0.28"/>
<polygon points="513.2,413.1 522,412.4 516.3,424.2 506.8,422.5" fill="#1a0a04" opacity="0.28"/>
<path d="M455.5,416.9 L486.1,415.7 L516.5,413.4" stroke="#9e5532" stroke-width="1" fill="none" opacity="0.8"/>
<path d="M458.5,418.6 L486.9,416.7 L515.3,414.5" stroke="#ad623b" stroke-width="1" fill="none" opacity="0.8"/>
<path d="M458,420 L487.3,417.7 L516.7,415.5" stroke="#813d23" stroke-width="1" fill="none" opacity="0.8"/>
<path d="M457.1,421.1 L485.4,418.9 L513.8,416.7" stroke="#b2663e" stroke-width="1" fill="none" opacity="0.8"/>
<path d="M453.6,422.4 L483.6,420.1 L513.5,417.8" stroke="#9a5231" stroke-width="1" fill="none" opacity="0.8"/>
<path d="M455.4,423.3 L483.6,421.1 L512,419.8" stroke="#76331c" stroke-width="1" fill="none" opacity="0.8"/>
<path d="M454.1,424.5 L484.4,422.1 L515.6,422.9" stroke="#642312" stroke-width="1" fill="none" opacity="0.8"/>
<polygon points="565.5,429.4 593.3,405.5 622.1,385.3 633,393.4 605.2,417.5 577,439.7" fill="#ca804a"/>
<polygon points="565.5,429.4 572.9,423.1 584.6,434.4 577,439.7" fill="#1a0a04" opacity="0.28"/>
<polygon points="614.1,389.4 622.1,385.3 633,393.4 625.6,399.8" fill="#1a0a04" opacity="0.28"/>
<path d="M567.7,429.1 L593.7,406.8 L620.3,386.9" stroke="#d78b51" stroke-width="1" fill="none" opacity="0.8"/>
<path d="M568.2,431.8 L594.3,409.5 L620.6,387.9" stroke="#b56e3f" stroke-width="1" fill="none" opacity="0.8"/>
<path d="M571.7,432 L597.8,409.6 L623.9,387.5" stroke="#ffb56c" stroke-width="1" fill="none" opacity="0.8"/>
<path d="M574.8,432.5 L600.3,410.6 L625.7,388.5" stroke="#ce834c" stroke-width="1" fill="none" opacity="0.8"/>
<path d="M574.4,435.7 L600.7,413.4 L626.9,390.7" stroke="#a35f35" stroke-width="1" fill="none" opacity="0.8"/>
<path d="M575.3,437.4 L601.3,416.1 L627,393.8" stroke="#dc9054" stroke-width="1" fill="none" opacity="0.8"/>
<path d="M580.7,435.9 L604.4,416.7 L627.8,396.4" stroke="#ed9d5d" stroke-width="1" fill="none" opacity="0.8"/>
<polygon points="595.6,422.2 631,427.4 666.1,431.2 661.1,445.5 625.6,440.4 590.6,436.7" fill="#723824"/>
<polygon points="595.6,422.2 605.1,424.1 599.9,437.7 590.6,436.7" fill="#1a0a04" opacity="0.28"/>
<polygon points="656.8,430.1 666.1,431.2 661.1,445.5 651.5,443.7" fill="#1a0a04" opacity="0.28"/>
<path d="M596.2,423.5 L630.2,428.2 L664,431.9" stroke="#6e3522" stroke-width="1" fill="none" opacity="0.8"/>
<path d="M597.7,426.3 L629.8,430.1 L661.9,433.6" stroke="#7f432b" stroke-width="1" fill="none" opacity="0.8"/>
<path d="M598.9,428.9 L630.7,432.2 L662.6,435.7" stroke="#6e3522" stroke-width="1" fill="none" opacity="0.8"/>
<path d="M598.3,430.8 L628.5,433.9 L658.8,437.2" stroke="#5f2819" stroke-width="1" fill="none" opacity="0.8"/>
<path d="M593.9,432.2 L625.9,435.6 L658.1,439.1" stroke="#5f2719" stroke-width="1" fill="none" opacity="0.8"/>
<path d="M592.5,434 L625.6,437.5 L659,441.6" stroke="#753b26" stroke-width="1" fill="none" opacity="0.8"/>
<path d="M591.9,435.9 L626.3,439.5 L661.1,444.3" stroke="#562115" stroke-width="1" fill="none" opacity="0.8"/>
<polygon points="710.5,451.2 738.6,428.2 766.8,406.1 778.5,416.8 750.5,440.1 721.6,459.7" fill="#c98b71"/>
<polygon points="710.5,451.2 718,445.1 729.5,455.6 721.6,459.7" fill="#1a0a04" opacity="0.28"/>
<polygon points="759.2,411.6 766.8,406.1 778.5,416.8 771.1,423" fill="#1a0a04" opacity="0.28"/>
<path d="M713.5,450.3 L738.2,430 L763.1,410" stroke="#e3a17f" stroke-width="1" fill="none" opacity="0.8"/>
<path d="M717.5,450.1 L743.2,429 L769.1,408.2" stroke="#ac7261" stroke-width="1" fill="none" opacity="0.8"/>
<path d="M714.8,455.4 L741.9,433.2 L768.9,410.9" stroke="#ba7e69" stroke-width="1" fill="none" opacity="0.8"/>
<path d="M716.7,456.9 L743.4,435 L770,412.9" stroke="#a36b5c" stroke-width="1" fill="none" opacity="0.8"/>
<path d="M719.5,457.2 L746.4,435.7 L773.1,413.5" stroke="#e5a280" stroke-width="1" fill="none" opacity="0.8"/>
<path d="M721.4,457.6 L748.3,437.2 L774.7,415.2" stroke="#9f675a" stroke-width="1" fill="none" opacity="0.8"/>
<path d="M722.9,458.3 L749.2,439.6 L774.8,418.3" stroke="#d9997a" stroke-width="1" fill="none" opacity="0.8"/>
<polygon points="740.8,444.5 775.8,447.7 809.9,447.7 803.2,455.5 769.3,456.7 735.2,456.8" fill="#f9ddc5"/>
<polygon points="740.8,444.5 750.4,446.5 744.3,456.7 735.2,456.8" fill="#1a0a04" opacity="0.28"/>
<polygon points="800.9,447.7 809.9,447.7 803.2,455.5 794.3,456.2" fill="#1a0a04" opacity="0.28"/>
<path d="M744.9,447.5 L776.5,448.8 L807.8,448.9" stroke="#efd5c0" stroke-width="1" fill="none" opacity="0.8"/>
<path d="M743.4,451.2 L773.3,451.1 L803.2,451.1" stroke="#fadec6" stroke-width="1" fill="none" opacity="0.8"/>
<path d="M742.2,453.4 L772.5,453.3 L802.9,453.4" stroke="#f3d8c2" stroke-width="1" fill="none" opacity="0.8"/>
<path d="M736.9,455.6 L770.6,455.6 L804,454.7" stroke="#fde1c8" stroke-width="1" fill="none" opacity="0.8"/>
<polygon points="849.8,450.4 880.7,437.9 911.2,424.1 921,428 890.2,440.5 859.1,452.1" fill="#fbe7db"/>
<path d="M855.5,448.9 L883,437.8 L910.2,425.9" stroke="#ffebde" stroke-width="1" fill="none" opacity="0.8"/>
<path d="M858,449.5 L884.5,438.8 L911,428" stroke="#feeadd" stroke-width="1" fill="none" opacity="0.8"/>
<path d="M857.8,451.1 L886.4,439.6 L914.9,428" stroke="#f2dfd6" stroke-width="1" fill="none" opacity="0.8"/>
<path d="M858.9,451.7 L887.8,440.7 L916.4,429" stroke="#fff3e3" stroke-width="1" fill="none" opacity="0.8"/>
<polygon points="880.1,443.5 913.3,439.9 946.3,435.4 938.6,439.4 905.8,444.5 872.8,449" fill="#f7e9e1"/>
<path d="M881.4,444.2 L912.5,440.4 L943.5,436.3" stroke="#f6e8e0" stroke-width="1" fill="none" opacity="0.8"/>
<path d="M881.8,445.6 L911.4,441.5 L941.1,437.5" stroke="#fff4e8" stroke-width="1" fill="none" opacity="0.8"/>
<path d="M876.4,447.2 L908.2,442.9 L939.9,438.5" stroke="#f7e9e1" stroke-width="1" fill="none" opacity="0.8"/>
<path d="M875.9,448.2 L905.5,444.1 L935.1,439.8" stroke="#fff1e6" stroke-width="1" fill="none" opacity="0.8"/>
<polygon points="468.3,411.9 497.5,393.4 526.6,374.4 537.1,381.3 508,400 478.3,416.9" fill="#bc7048"/>
<polygon points="468.3,411.9 476,407 486.4,413 478.3,416.9" fill="#1a0a04" opacity="0.28"/>
<polygon points="518.9,379.5 526.6,374.4 537.1,381.3 529.4,386.2" fill="#1a0a04" opacity="0.28"/>
<path d="M471.9,410.6 L499.6,393 L527.2,375" stroke="#c3764c" stroke-width="1" fill="none" opacity="0.8"/>
<path d="M473.1,411.7 L499.9,394.7 L526.6,377.4" stroke="#a85f3d" stroke-width="1" fill="none" opacity="0.8"/>
<path d="M475.4,412.2 L500.7,396 L526.1,379.7" stroke="#975134" stroke-width="1" fill="none" opacity="0.8"/>
<path d="M476.7,413.2 L503.4,396.2 L530.1,379" stroke="#bd7149" stroke-width="1" fill="none" opacity="0.8"/>
<path d="M479.2,413.5 L504.1,397.7 L528.9,381.8" stroke="#c97b4f" stroke-width="1" fill="none" opacity="0.8"/>
<path d="M477.2,415.8 L504,399.6 L530.5,382.6" stroke="#9e5738" stroke-width="1" fill="none" opacity="0.8"/>
<path d="M479.5,415.8 L506.2,400.2 L532.5,383.3" stroke="#ab613e" stroke-width="1" fill="none" opacity="0.8"/>
<polygon points="498.2,404.1 531.9,403 565.3,400.6 559.6,412.5 525.2,411 491.8,413.5" fill="#8a4428"/>
<polygon points="498.2,404.1 507.3,404.3 500.7,412.8 491.8,413.5" fill="#1a0a04" opacity="0.28"/>
<polygon points="556.4,401.2 565.3,400.6 559.6,412.5 550.1,410.7" fill="#1a0a04" opacity="0.28"/>
<path d="M503,405 L531.5,403.6 L559.7,401.5" stroke="#79361f" stroke-width="1" fill="none" opacity="0.8"/>
<path d="M499.1,406.5 L530.8,404.7 L562.4,402.4" stroke="#823d24" stroke-width="1" fill="none" opacity="0.8"/>
<path d="M497.5,408.1 L527.6,406 L557.6,403.8" stroke="#632313" stroke-width="1" fill="none" opacity="0.8"/>
<path d="M496.4,409.5 L528.6,407 L560.9,404.7" stroke="#632313" stroke-width="1" fill="none" opacity="0.8"/>
<path d="M497.1,410.5 L527,408.2 L557,406" stroke="#c37447" stroke-width="1" fill="none" opacity="0.8"/>
<path d="M496.7,411.5 L526.1,409.3 L555.9,408.1" stroke="#5c1d0f" stroke-width="1" fill="none" opacity="0.8"/>
<path d="M493.8,412.8 L523.8,410.5 L554.4,410.3" stroke="#622212" stroke-width="1" fill="none" opacity="0.8"/>
<polygon points="608.9,418 636.6,393.9 665.3,373.5 676.3,381.7 648.6,406 620.4,428.4" fill="#c27842"/>
<polygon points="608.9,418 616.3,411.6 628.1,423.1 620.4,428.4" fill="#1a0a04" opacity="0.28"/>
<polygon points="657.4,377.6 665.3,373.5 676.3,381.7 669,388.2" fill="#1a0a04" opacity="0.28"/>
<path d="M611.9,417 L638,394.3 L664.7,374.4" stroke="#c67b44" stroke-width="1" fill="none" opacity="0.8"/>
<path d="M611.7,420.4 L638.8,396.9 L666.3,374.9" stroke="#ec9c59" stroke-width="1" fill="none" opacity="0.8"/>
<path d="M613.8,421.7 L639.2,399.7 L664.5,377.4" stroke="#cc8148" stroke-width="1" fill="none" opacity="0.8"/>
<path d="M619.3,420.2 L643.3,399.3 L667.3,378.2" stroke="#f7a55f" stroke-width="1" fill="none" opacity="0.8"/>
<path d="M617.1,424.9 L644.5,401.5 L671.8,377.6" stroke="#da8c4f" stroke-width="1" fill="none" opacity="0.8"/>
<path d="M618.9,426 L646,403.5 L672.9,379.8" stroke="#e09152" stroke-width="1" fill="none" opacity="0.8"/>
<path d="M623.7,425 L649.6,403.6 L675.2,381" stroke="#ec9c59" stroke-width="1" fill="none" opacity="0.8"/>
<polygon points="639,410.8 674.5,416.1 709.6,420.1 704.6,434.6 669.1,429.3 634.1,425.5" fill="#753b27"/>
<polygon points="639,410.8 648.6,412.7 643.4,426.4 634.1,425.5" fill="#1a0a04" opacity="0.28"/>
<polygon points="700.3,419 709.6,420.1 704.6,434.6 695.1,432.7" fill="#1a0a04" opacity="0.28"/>
<path d="M640.9,412.4 L674.9,417.1 L708.6,421" stroke="#6a3221" stroke-width="1" fill="none" opacity="0.8"/>
<path d="M643.8,415.5 L675.3,419.2 L706.9,422.8" stroke="#6d3422" stroke-width="1" fill="none" opacity="0.8"/>
<path d="M638.2,416.8 L672.6,420.8 L707,424.8" stroke="#672f1f" stroke-width="1" fill="none" opacity="0.8"/>
<path d="M641.9,419.5 L674.2,423 L706.5,426.7" stroke="#582317" stroke-width="1" fill="none" opacity="0.8"/>
<path d="M641.3,421.3 L670.9,424.6 L700.6,428" stroke="#bb764d" stroke-width="1" fill="none" opacity="0.8"/>
<path d="M636.6,422.8 L670,426.4 L703.6,430.8" stroke="#9e5e3d" stroke-width="1" fill="none" opacity="0.8"/>
<path d="M637.2,424.8 L668.9,428.3 L700.9,432.7" stroke="#632c1d" stroke-width="1" fill="none" opacity="0.8"/>
<polygon points="754.2,440.6 782.2,417.3 810.4,395.1 822.1,405.9 794.2,429.4 765.3,449.2" fill="#bb7d63"/>
<polygon points="754.2,440.6 761.6,434.4 773.3,445.1 765.3,449.2" fill="#1a0a04" opacity="0.28"/>
<polygon points="802.8,400.6 810.4,395.1 822.1,405.9 814.7,412.2" fill="#1a0a04" opacity="0.28"/>
<path d="M756.6,440.1 L782.1,419 L807.7,398.2" stroke="#d59372" stroke-width="1" fill="none" opacity="0.8"/>
<path d="M759.3,441 L785,419.7 L810.6,398.6" stroke="#bf8065" stroke-width="1" fill="none" opacity="0.8"/>
<path d="M760.5,443.2 L786.2,421.8 L811.9,400.2" stroke="#da9774" stroke-width="1" fill="none" opacity="0.8"/>
<path d="M761.1,445.8 L787.3,424.1 L813.4,402.1" stroke="#e39f79" stroke-width="1" fill="none" opacity="0.8"/>
<path d="M765.7,445.1 L791.4,423.8 L817,402.3" stroke="#e6a27b" stroke-width="1" fill="none" opacity="0.8"/>
<path d="M767.2,446 L793.1,425.5 L818.7,404" stroke="#a66b58" stroke-width="1" fill="none" opacity="0.8"/>
<path d="M765.5,448.3 L793.6,428.2 L821,405.3" stroke="#e7a37c" stroke-width="1" fill="none" opacity="0.8"/>
<polygon points="784.5,433.9 819.5,437.2 853.7,437.3 847,445.2 813.1,446.3 778.9,446.2" fill="#f0d4bc"/>
<polygon points="784.5,433.9 794.1,435.9 788,446.2 778.9,446.2" fill="#1a0a04" opacity="0.28"/>
<polygon points="844.6,437.3 853.7,437.3 847,445.2 838.1,445.9" fill="#1a0a04" opacity="0.28"/>
<path d="M789,437 L820.8,438.3 L852.3,438.5" stroke="#e3c9b5" stroke-width="1" fill="none" opacity="0.8"/>
<path d="M787.7,440.6 L817.3,440.6 L846.9,440.7" stroke="#fee0c4" stroke-width="1" fill="none" opacity="0.8"/>
<path d="M785.1,442.9 L816,442.9 L846.8,443" stroke="#f8dbc0" stroke-width="1" fill="none" opacity="0.8"/>
<path d="M780.3,445.1 L812.7,445.1 L845,444.6" stroke="#efd3bb" stroke-width="1" fill="none" opacity="0.8"/>
<polygon points="511.5,399.9 540.6,381.2 569.7,362.1 580.3,369.1 551.2,387.9 521.6,405" fill="#ae623a"/>
<polygon points="511.5,399.9 519.2,394.9 529.6,401 521.6,405" fill="#1a0a04" opacity="0.28"/>
<polygon points="562,367.2 569.7,362.1 580.3,369.1 572.5,374.1" fill="#1a0a04" opacity="0.28"/>
<path d="M515.1,398.6 L542,381.2 L568.9,363.6" stroke="#ae623a" stroke-width="1" fill="none" opacity="0.8"/>
<path d="M515.5,400.2 L543,382.5 L570.5,364.6" stroke="#a15732" stroke-width="1" fill="none" opacity="0.8"/>
<path d="M518.1,400.5 L543.5,384.2 L568.9,367.7" stroke="#d68450" stroke-width="1" fill="none" opacity="0.8"/>
<path d="M520.8,400.6 L546,384.5 L571.1,368.2" stroke="#9a512f" stroke-width="1" fill="none" opacity="0.8"/>
<path d="M522.8,401.2 L549.1,384.4 L575.2,367.4" stroke="#8b4427" stroke-width="1" fill="none" opacity="0.8"/>
<path d="M521.9,403.1 L548.4,386.8 L574.6,369.8" stroke="#9f5532" stroke-width="1" fill="none" opacity="0.8"/>
<path d="M524,403.2 L551.3,386.9 L578.2,369.4" stroke="#d98651" stroke-width="1" fill="none" opacity="0.8"/>
<polygon points="541.4,392 575.2,391.1 608.6,388.7 602.9,400.8 568.5,399.1 535.1,401.6" fill="#8d472b"/>
<polygon points="541.4,392 550.5,392.3 543.9,400.9 535.1,401.6" fill="#1a0a04" opacity="0.28"/>
<polygon points="599.7,389.4 608.6,388.7 602.9,400.8 593.4,399" fill="#1a0a04" opacity="0.28"/>
<path d="M543.6,392.9 L574.5,391.7 L605.2,389.5" stroke="#b0643e" stroke-width="1" fill="none" opacity="0.8"/>
<path d="M545.6,394.6 L575,392.7 L604.3,390.7" stroke="#a25936" stroke-width="1" fill="none" opacity="0.8"/>
<path d="M542.7,396.1 L574.2,393.9 L605.8,391.7" stroke="#864127" stroke-width="1" fill="none" opacity="0.8"/>
<path d="M543,397.2 L572,395.1 L601,393.1" stroke="#652515" stroke-width="1" fill="none" opacity="0.8"/>
<path d="M542.1,398.4 L572.1,396.2 L602.3,394.5" stroke="#d38352" stroke-width="1" fill="none" opacity="0.8"/>
<path d="M538.5,399.7 L570.3,397.4 L602.7,397" stroke="#924b2e" stroke-width="1" fill="none" opacity="0.8"/>
<path d="M540.3,400.6 L570.2,398.5 L600.8,399.1" stroke="#af643e" stroke-width="1" fill="none" opacity="0.8"/>
<polygon points="652.3,406.5 680,382.2 708.6,361.7 719.6,370 692,394.6 663.9,417.2" fill="#ca804a"/>
<polygon points="652.3,406.5 659.7,400.1 671.5,411.8 663.9,417.2" fill="#1a0a04" opacity="0.28"/>
<polygon points="700.6,365.7 708.6,361.7 719.6,370 712.3,376.6" fill="#1a0a04" opacity="0.28"/>
<path d="M654.8,406 L681,383 L707.9,362.7" stroke="#ca804a" stroke-width="1" fill="none" opacity="0.8"/>
<path d="M656.7,407.6 L682.6,384.8 L708.9,363.4" stroke="#d88c51" stroke-width="1" fill="none" opacity="0.8"/>
<path d="M660.5,407.5 L684.9,386 L709.3,364.5" stroke="#d1864e" stroke-width="1" fill="none" opacity="0.8"/>
<path d="M659.3,411.8 L685.7,388.7 L711.9,365.3" stroke="#fcab66" stroke-width="1" fill="none" opacity="0.8"/>
<path d="M660.6,413.5 L687.8,390 L714.9,365.9" stroke="#b97241" stroke-width="1" fill="none" opacity="0.8"/>
<path d="M662.8,414.3 L690,391.4 L716.9,367.5" stroke="#cd834c" stroke-width="1" fill="none" opacity="0.8"/>
<path d="M667.4,413.5 L692,392.9 L716.4,371.3" stroke="#e09256" stroke-width="1" fill="none" opacity="0.8"/>
<polygon points="682.4,399.3 718,404.9 753.2,409 748.2,423.7 712.7,418.2 677.5,414.2" fill="#7a402c"/>
<polygon points="682.4,399.3 692,401.3 686.8,415.2 677.5,414.2" fill="#1a0a04" opacity="0.28"/>
<polygon points="743.8,407.9 753.2,409 748.2,423.7 738.7,421.8" fill="#1a0a04" opacity="0.28"/>
<path d="M687,401.5 L717.4,405.8 L747.6,409.4" stroke="#753b29" stroke-width="1" fill="none" opacity="0.8"/>
<path d="M685.4,403.7 L718.4,407.9 L751.4,411.8" stroke="#b7744d" stroke-width="1" fill="none" opacity="0.8"/>
<path d="M683,405.7 L715.8,409.6 L748.6,413.5" stroke="#9e5e40" stroke-width="1" fill="none" opacity="0.8"/>
<path d="M681.8,407.8 L715.6,411.6 L749.5,415.6" stroke="#98593c" stroke-width="1" fill="none" opacity="0.8"/>
<path d="M682.8,409.9 L716,413.6 L749.4,417.9" stroke="#683122" stroke-width="1" fill="none" opacity="0.8"/>
<path d="M680.7,411.6 L714.8,415.5 L749.2,420.2" stroke="#985a3d" stroke-width="1" fill="none" opacity="0.8"/>
<path d="M678.9,413.4 L712.8,417.2 L747,422.2" stroke="#703726" stroke-width="1" fill="none" opacity="0.8"/>
<polygon points="797.9,429.9 825.8,406.5 853.9,384 865.7,395 837.8,418.7 809,438.7" fill="#c4866c"/>
<polygon points="797.9,429.9 805.3,423.7 817,434.5 809,438.7" fill="#1a0a04" opacity="0.28"/>
<polygon points="846.3,389.6 853.9,384 865.7,395 858.3,401.4" fill="#1a0a04" opacity="0.28"/>
<path d="M800.7,429.1 L826.2,407.7 L851.8,386.8" stroke="#d39374" stroke-width="1" fill="none" opacity="0.8"/>
<path d="M802.4,430.9 L829.1,408.4 L855.9,386.4" stroke="#f0ac84" stroke-width="1" fill="none" opacity="0.8"/>
<path d="M805.3,431.6 L831.4,409.7 L857.6,387.7" stroke="#bf8269" stroke-width="1" fill="none" opacity="0.8"/>
<path d="M807.3,433.1 L831.3,413 L855.2,392.7" stroke="#9c6456" stroke-width="1" fill="none" opacity="0.8"/>
<path d="M805.4,436.8 L832.5,415.2 L859.2,392.5" stroke="#bd8068" stroke-width="1" fill="none" opacity="0.8"/>
<path d="M811.2,435.3 L835.4,415.9 L859.4,395.6" stroke="#b57964" stroke-width="1" fill="none" opacity="0.8"/>
<path d="M810.3,437.3 L836.6,418.1 L862.2,396.4" stroke="#e8a480" stroke-width="1" fill="none" opacity="0.8"/>
<polygon points="828.1,423.2 863.2,426.7 897.5,426.9 890.8,434.9 856.9,435.9 822.7,435.7" fill="#edd1b9"/>
<polygon points="828.1,423.2 837.8,425.3 831.7,435.8 822.7,435.7" fill="#1a0a04" opacity="0.28"/>
<polygon points="888.4,426.9 897.5,426.9 890.8,434.9 881.9,435.6" fill="#1a0a04" opacity="0.28"/>
<path d="M829.9,425.7 L863.3,427.9 L896.2,428.1" stroke="#f1d4bb" stroke-width="1" fill="none" opacity="0.8"/>
<path d="M826.6,429.3 L858.3,430.1 L889.9,430.4" stroke="#edd1b9" stroke-width="1" fill="none" opacity="0.8"/>
<path d="M828.2,432.3 L860.6,432.4 L893,432.5" stroke="#e5cab5" stroke-width="1" fill="none" opacity="0.8"/>
<path d="M826,434.6 L856.6,434.7 L887,434.4" stroke="#eed2b9" stroke-width="1" fill="none" opacity="0.8"/>
<polygon points="445.3,378.5 478.8,376.7 513.1,377.8 507.3,389.3 473,388.3 438.8,387.4" fill="#d49060"/>
<polygon points="445.3,378.5 454,377.1 447.9,387.6 438.8,387.4" fill="#1a0a04" opacity="0.28"/>
<polygon points="504,377.5 513.1,377.8 507.3,389.3 498.2,389" fill="#1a0a04" opacity="0.28"/>
<path d="M450,378.1 L479.3,377.6 L509,378.5" stroke="#c38157" stroke-width="1" fill="none" opacity="0.8"/>
<path d="M444.8,379.7 L477.3,379.2 L510.2,380.2" stroke="#f9af74" stroke-width="1" fill="none" opacity="0.8"/>
<path d="M443.4,380.6 L475.7,380.8 L508.1,381.9" stroke="#df9a66" stroke-width="1" fill="none" opacity="0.8"/>
<path d="M443.7,381.7 L474.8,382.5 L505.9,383.5" stroke="#fab075" stroke-width="1" fill="none" opacity="0.8"/>
<path d="M445.6,383.4 L475.4,384.2 L505.3,385.1" stroke="#b97951" stroke-width="1" fill="none" opacity="0.8"/>
<path d="M440.4,385 L473.2,385.8 L506.1,386.8" stroke="#e19b67" stroke-width="1" fill="none" opacity="0.8"/>
<path d="M440.3,386.6 L471.6,387.4 L502.9,388.3" stroke="#d89362" stroke-width="1" fill="none" opacity="0.8"/>
<polygon points="554.7,387.8 583.8,369 612.7,349.7 623.4,356.8 594.3,375.8 564.8,393.1" fill="#ba6e46"/>
<polygon points="554.7,387.8 562.4,382.9 572.8,389.1 564.8,393.1" fill="#1a0a04" opacity="0.28"/>
<polygon points="605.1,354.9 612.7,349.7 623.4,356.8 615.7,361.9" fill="#1a0a04" opacity="0.28"/>
<path d="M559.8,385.5 L586.4,368.2 L613,350.6" stroke="#e08e5b" stroke-width="1" fill="none" opacity="0.8"/>
<path d="M558.8,388.1 L586.5,370.2 L614.1,352" stroke="#9d5536" stroke-width="1" fill="none" opacity="0.8"/>
<path d="M558.6,390.2 L586.5,372.1 L614.2,353.9" stroke="#af6540" stroke-width="1" fill="none" opacity="0.8"/>
<path d="M563.9,388.7 L589.1,372.4 L614.2,355.9" stroke="#914b2f" stroke-width="1" fill="none" opacity="0.8"/>
<path d="M563.3,390.8 L590.6,373.4 L617.8,355.6" stroke="#9c5535" stroke-width="1" fill="none" opacity="0.8"/>
<path d="M564,391.7 L592,374.4 L619.9,356.2" stroke="#cc7d50" stroke-width="1" fill="none" opacity="0.8"/>
<path d="M565.8,392 L594.1,375 L622.1,356.7" stroke="#a05838" stroke-width="1" fill="none" opacity="0.8"/>
<polygon points="584.6,380 618.4,379.2 651.8,376.9 646.3,389.1 611.7,387.3 578.3,389.6" fill="#8d472b"/>
<polygon points="584.6,380 593.7,380.3 587.2,389 578.3,389.6" fill="#1a0a04" opacity="0.28"/>
<polygon points="643,377.5 651.8,376.9 646.3,389.1 636.7,387.2" fill="#1a0a04" opacity="0.28"/>
<path d="M587.3,380.9 L618.8,379.7 L650,377.6" stroke="#9f5735" stroke-width="1" fill="none" opacity="0.8"/>
<path d="M584.5,382.5 L615.7,381 L646.8,378.9" stroke="#b1663f" stroke-width="1" fill="none" opacity="0.8"/>
<path d="M583.5,384.1 L614.5,382.2 L645.4,380.1" stroke="#833f26" stroke-width="1" fill="none" opacity="0.8"/>
<path d="M584.6,385.4 L614.9,383.2 L645.3,381.2" stroke="#995131" stroke-width="1" fill="none" opacity="0.8"/>
<path d="M583.1,386.6 L615.1,384.3 L647.5,383.1" stroke="#c17348" stroke-width="1" fill="none" opacity="0.8"/>
<path d="M584.4,387.6 L614.2,385.5 L644.4,385" stroke="#944d2f" stroke-width="1" fill="none" opacity="0.8"/>
<path d="M580.2,389 L610.5,386.8 L641.4,386.9" stroke="#9e5534" stroke-width="1" fill="none" opacity="0.8"/>
<polygon points="695.7,395.1 723.3,370.5 751.9,349.9 762.9,358.4 735.4,383.1 707.4,405.9" fill="#c17741"/>
<polygon points="695.7,395.1 703,388.6 715,400.5 707.4,405.9" fill="#1a0a04" opacity="0.28"/>
<polygon points="743.9,353.9 751.9,349.9 762.9,358.4 755.6,365" fill="#1a0a04" opacity="0.28"/>
<path d="M700.2,392.8 L723.8,371.8 L747.8,352.6" stroke="#b36b39" stroke-width="1" fill="none" opacity="0.8"/>
<path d="M702.7,393.8 L727,372.2 L751.7,351.9" stroke="#a35e31" stroke-width="1" fill="none" opacity="0.8"/>
<path d="M703.2,396.7 L728.5,374.3 L753.8,352.1" stroke="#feab63" stroke-width="1" fill="none" opacity="0.8"/>
<path d="M704.3,399 L730.4,375.9 L756.4,352.4" stroke="#ec9b58" stroke-width="1" fill="none" opacity="0.8"/>
<path d="M707.3,399.8 L731.9,377.9 L756.5,355.7" stroke="#c57a43" stroke-width="1" fill="none" opacity="0.8"/>
<path d="M708.9,401.1 L733.7,379.6 L758.4,357.4" stroke="#c07641" stroke-width="1" fill="none" opacity="0.8"/>
<path d="M709.3,403.3 L734,382.7 L758.4,360.8" stroke="#a66032" stroke-width="1" fill="none" opacity="0.8"/>
<polygon points="725.8,387.9 761.4,393.6 796.7,398 791.8,412.8 756.2,407.1 721,402.9" fill="#6d331f"/>
<polygon points="725.8,387.9 735.4,390 730.3,404 721,402.9" fill="#1a0a04" opacity="0.28"/>
<polygon points="787.3,396.8 796.7,398 791.8,412.8 782.2,410.8" fill="#1a0a04" opacity="0.28"/>
<path d="M729.9,390.1 L761.7,394.7 L793.2,398.5" stroke="#5b2315" stroke-width="1" fill="none" opacity="0.8"/>
<path d="M730.1,392.6 L760.3,396.5 L790.5,400.2" stroke="#8a4c2f" stroke-width="1" fill="none" opacity="0.8"/>
<path d="M730,395 L760,398.5 L790.1,402.2" stroke="#84462b" stroke-width="1" fill="none" opacity="0.8"/>
<path d="M725.3,396.4 L759.6,400.5 L794,404.7" stroke="#7d4128" stroke-width="1" fill="none" opacity="0.8"/>
<path d="M727,398.6 L759.2,402.4 L791.4,406.6" stroke="#85472c" stroke-width="1" fill="none" opacity="0.8"/>
<path d="M725.3,400.4 L758.2,404.3 L791.3,409" stroke="#7f4229" stroke-width="1" fill="none" opacity="0.8"/>
<path d="M724.6,402.4 L757.1,406.2 L789.9,411.2" stroke="#49140b" stroke-width="1" fill="none" opacity="0.8"/>
<polygon points="841.5,419.2 869.4,395.6 897.4,372.9 909.3,384.2 881.5,408 852.7,428.1" fill="#c5876d"/>
<polygon points="841.5,419.2 848.9,413 860.7,424 852.7,428.1" fill="#1a0a04" opacity="0.28"/>
<polygon points="889.9,378.5 897.4,372.9 909.3,384.2 901.9,390.5" fill="#1a0a04" opacity="0.28"/>
<path d="M843.8,418.9 L869.3,397.3 L894.9,376.1" stroke="#a76d5c" stroke-width="1" fill="none" opacity="0.8"/>
<path d="M845.9,420.4 L872.4,397.9 L899,375.7" stroke="#bd8068" stroke-width="1" fill="none" opacity="0.8"/>
<path d="M848.4,421.4 L874.7,399.1 L901,376.8" stroke="#9c6456" stroke-width="1" fill="none" opacity="0.8"/>
<path d="M849.8,423.6 L876.1,401.3 L902.3,378.7" stroke="#c5876d" stroke-width="1" fill="none" opacity="0.8"/>
<path d="M849.9,425.9 L877.3,403.4 L904.5,380.1" stroke="#c88a6f" stroke-width="1" fill="none" opacity="0.8"/>
<path d="M855,424.7 L879,405.2 L902.8,384.8" stroke="#c6886e" stroke-width="1" fill="none" opacity="0.8"/>
<path d="M853.9,426.8 L881.4,406.5 L908.1,383.5" stroke="#b07562" stroke-width="1" fill="none" opacity="0.8"/>
<polygon points="871.8,412.6 907,416.2 941.2,416.5 934.6,424.5 900.6,425.5 866.4,425.2" fill="#efd3bb"/>
<polygon points="871.8,412.6 881.5,414.7 875.5,425.3 866.4,425.2" fill="#1a0a04" opacity="0.28"/>
<polygon points="932.1,416.4 941.2,416.5 934.6,424.5 925.7,425.2" fill="#1a0a04" opacity="0.28"/>
<path d="M876.8,415.8 L908.5,417.4 L939.8,417.7" stroke="#fbddc2" stroke-width="1" fill="none" opacity="0.8"/>
<path d="M873,419.4 L904.7,419.7 L936.5,420" stroke="#e8cdb7" stroke-width="1" fill="none" opacity="0.8"/>
<path d="M874.1,421.8 L905.2,422 L936.2,422.2" stroke="#f1d4bc" stroke-width="1" fill="none" opacity="0.8"/>
<path d="M870,424.1 L902.3,424.3 L934.4,423.8" stroke="#e7ccb6" stroke-width="1" fill="none" opacity="0.8"/>
<polygon points="458.6,374.5 489.2,361.2 519.8,348.5 528.8,349.2 498.3,362.5 468.4,378.4" fill="#e5c3af"/>
<path d="M463.7,372.9 L490.5,361.3 L517.3,349.9" stroke="#f0ccb5" stroke-width="1" fill="none" opacity="0.8"/>
<path d="M462.5,374.7 L491.1,362.3 L519.6,349.9" stroke="#ecc9b3" stroke-width="1" fill="none" opacity="0.8"/>
<path d="M465.5,375.1 L494.3,362.3 L523.1,349.7" stroke="#f2ceb6" stroke-width="1" fill="none" opacity="0.8"/>
<path d="M468.6,376.5 L496.1,362.8 L523.9,350.7" stroke="#dbbbaa" stroke-width="1" fill="none" opacity="0.8"/>
<polygon points="488.3,365.9 521.9,364.2 556.2,365.4 550.4,377 516.1,376 481.9,374.9" fill="#db9767"/>
<polygon points="488.3,365.9 497,364.5 491,375.2 481.9,374.9" fill="#1a0a04" opacity="0.28"/>
<polygon points="547,365.1 556.2,365.4 550.4,377 541.3,376.8" fill="#1a0a04" opacity="0.28"/>
<path d="M489.2,366.1 L520.8,365.1 L552.9,366.2" stroke="#bb7c56" stroke-width="1" fill="none" opacity="0.8"/>
<path d="M491.4,366.5 L521,366.8 L550.8,367.8" stroke="#db9767" stroke-width="1" fill="none" opacity="0.8"/>
<path d="M489.4,367.5 L520.5,368.5 L551.8,369.6" stroke="#f7af76" stroke-width="1" fill="none" opacity="0.8"/>
<path d="M486.2,369.1 L518.2,370.1 L550.3,371.2" stroke="#e39e6b" stroke-width="1" fill="none" opacity="0.8"/>
<path d="M486.1,370.8 L519.1,371.8 L552.2,373" stroke="#bd7d56" stroke-width="1" fill="none" opacity="0.8"/>
<path d="M486.6,372.5 L518.5,373.5 L550.5,374.6" stroke="#ffc585" stroke-width="1" fill="none" opacity="0.8"/>
<path d="M485.1,374.1 L515.3,375.1 L545.6,376.1" stroke="#ffcc89" stroke-width="1" fill="none" opacity="0.8"/>
<polygon points="597.9,375.8 626.9,356.8 655.8,337.4 666.5,344.6 637.5,363.8 608,381.1" fill="#b86c44"/>
<polygon points="597.9,375.8 605.6,370.8 616,377.1 608,381.1" fill="#1a0a04" opacity="0.28"/>
<polygon points="648.2,342.6 655.8,337.4 666.5,344.6 658.8,349.7" fill="#1a0a04" opacity="0.28"/>
<path d="M600.4,375.2 L628.4,356.8 L656.4,338.1" stroke="#bd7147" stroke-width="1" fill="none" opacity="0.8"/>
<path d="M603.6,375 L628.8,358.6 L653.9,341.9" stroke="#9d5535" stroke-width="1" fill="none" opacity="0.8"/>
<path d="M602.4,377.8 L628.8,360.6 L655.1,343.1" stroke="#ce7f50" stroke-width="1" fill="none" opacity="0.8"/>
<path d="M605.4,377.8 L631.6,360.7 L657.8,343.4" stroke="#985132" stroke-width="1" fill="none" opacity="0.8"/>
<path d="M607.2,378.5 L633.5,361.5 L659.6,344.2" stroke="#c27449" stroke-width="1" fill="none" opacity="0.8"/>
<path d="M606.7,380 L635.3,362.2 L663.6,343.6" stroke="#c4764a" stroke-width="1" fill="none" opacity="0.8"/>
<path d="M611.6,378.7 L638.5,362.1 L665.1,344.6" stroke="#8b462b" stroke-width="1" fill="none" opacity="0.8"/>
<polygon points="627.8,367.9 661.6,367.2 695.1,365.1 689.6,377.4 655,375.4 621.5,377.7" fill="#864024"/>
<polygon points="627.8,367.9 636.9,368.3 630.4,377.1 621.5,377.7" fill="#1a0a04" opacity="0.28"/>
<polygon points="686.2,365.6 695.1,365.1 689.6,377.4 680,375.5" fill="#1a0a04" opacity="0.28"/>
<path d="M631.7,368.9 L662.2,367.8 L692.5,365.8" stroke="#823d22" stroke-width="1" fill="none" opacity="0.8"/>
<path d="M632,370.6 L661.2,368.9 L690.4,367.1" stroke="#8b4427" stroke-width="1" fill="none" opacity="0.8"/>
<path d="M629.6,372.2 L661.1,370 L692.7,368" stroke="#722f19" stroke-width="1" fill="none" opacity="0.8"/>
<path d="M628.6,373.4 L659.7,371.3 L690.9,369.3" stroke="#5b1c0d" stroke-width="1" fill="none" opacity="0.8"/>
<path d="M626.7,374.6 L657.9,372.5 L689.2,371" stroke="#cc7b4b" stroke-width="1" fill="none" opacity="0.8"/>
<path d="M623.5,375.9 L654.5,373.8 L685.8,372.9" stroke="#7c381f" stroke-width="1" fill="none" opacity="0.8"/>
<path d="M626.4,376.8 L656.4,374.8 L687.3,375.7" stroke="#964e2d" stroke-width="1" fill="none" opacity="0.8"/>
<polygon points="739.1,383.6 766.6,358.9 795.2,338 806.3,346.7 778.8,371.7 750.8,394.6" fill="#c37943"/>
<polygon points="739.1,383.6 746.4,377.1 758.4,389.1 750.8,394.6" fill="#1a0a04" opacity="0.28"/>
<polygon points="787.2,342.1 795.2,338 806.3,346.7 799,353.3" fill="#1a0a04" opacity="0.28"/>
<path d="M741,383.7 L767,360.3 L793.7,339.4" stroke="#de9052" stroke-width="1" fill="none" opacity="0.8"/>
<path d="M743.2,385 L769.5,361.4 L796.2,339.4" stroke="#bb723f" stroke-width="1" fill="none" opacity="0.8"/>
<path d="M743.9,387.8 L770.5,363.9 L797.2,340.2" stroke="#f2a15d" stroke-width="1" fill="none" opacity="0.8"/>
<path d="M747.6,387.8 L772.6,365.4 L797.5,342.6" stroke="#d88a4e" stroke-width="1" fill="none" opacity="0.8"/>
<path d="M746.9,391.3 L774.5,367.1 L801.8,342.2" stroke="#b46c3b" stroke-width="1" fill="none" opacity="0.8"/>
<path d="M749.3,392 L775.4,369.7 L801.1,346.2" stroke="#ad6737" stroke-width="1" fill="none" opacity="0.8"/>
<path d="M753.5,391.4 L778.3,370.4 L802.7,348.2" stroke="#d2864b" stroke-width="1" fill="none" opacity="0.8"/>
<polygon points="769.2,376.5 804.9,382.4 840.2,386.9 835.4,401.9 799.7,396 764.5,391.7" fill="#783e2a"/>
<polygon points="769.2,376.5 778.8,378.6 773.8,392.8 764.5,391.7" fill="#1a0a04" opacity="0.28"/>
<polygon points="830.8,385.7 840.2,386.9 835.4,401.9 825.8,399.9" fill="#1a0a04" opacity="0.28"/>
<path d="M772,378.4 L804.8,383.4 L837.4,387.6" stroke="#672f21" stroke-width="1" fill="none" opacity="0.8"/>
<path d="M768.7,380.2 L801.7,385.1 L834.6,389.2" stroke="#925439" stroke-width="1" fill="none" opacity="0.8"/>
<path d="M768.3,382.7 L800.7,387 L833.1,391.1" stroke="#80452e" stroke-width="1" fill="none" opacity="0.8"/>
<path d="M770.6,385.3 L802.8,389.3 L835.2,393.4" stroke="#562117" stroke-width="1" fill="none" opacity="0.8"/>
<path d="M772,387.5 L803.9,391.5 L836,395.8" stroke="#864a32" stroke-width="1" fill="none" opacity="0.8"/>
<path d="M771.3,389.5 L803.3,393.4 L835.7,398.2" stroke="#783e2a" stroke-width="1" fill="none" opacity="0.8"/>
<path d="M767.6,391 L800.8,395.1 L834.3,400.4" stroke="#9f5f40" stroke-width="1" fill="none" opacity="0.8"/>
<polygon points="501.6,361.9 532.2,348.6 562.8,335.8 571.8,336.5 541.3,349.9 511.4,365.8" fill="#dab8a4"/>
<path d="M502.8,362 L532.2,349.2 L561.5,336.7" stroke="#cdad9d" stroke-width="1" fill="none" opacity="0.8"/>
<path d="M508.5,360.8 L535.2,349.2 L561.8,337.6" stroke="#e6c2ab" stroke-width="1" fill="none" opacity="0.8"/>
<path d="M507.7,363.1 L536.3,350 L565,337.5" stroke="#d5b4a1" stroke-width="1" fill="none" opacity="0.8"/>
<path d="M512.3,363.5 L540.5,349.5 L569.1,337" stroke="#d5b4a1" stroke-width="1" fill="none" opacity="0.8"/>
<polygon points="531.3,353.3 564.9,351.7 599.3,353.1 593.5,364.8 559.2,363.6 524.9,362.4" fill="#d18d5d"/>
<polygon points="531.3,353.3 540,352 534,362.7 524.9,362.4" fill="#1a0a04" opacity="0.28"/>
<polygon points="590.1,352.7 599.3,353.1 593.5,364.8 584.4,364.6" fill="#1a0a04" opacity="0.28"/>
<path d="M534.1,353.2 L566,352.6 L598.4,353.9" stroke="#e8a16a" stroke-width="1" fill="none" opacity="0.8"/>
<path d="M530,354.6 L561.1,354.2 L592.7,355.4" stroke="#b5754e" stroke-width="1" fill="none" opacity="0.8"/>
<path d="M529.2,355.4 L561,355.9 L593.1,357.2" stroke="#d4905f" stroke-width="1" fill="none" opacity="0.8"/>
<path d="M532,356.6 L562.8,357.7 L593.6,358.9" stroke="#dd9864" stroke-width="1" fill="none" opacity="0.8"/>
<path d="M527.4,358.2 L559.6,359.3 L591.9,360.6" stroke="#d38e5e" stroke-width="1" fill="none" opacity="0.8"/>
<path d="M531.4,360 L563.1,361.2 L594.7,362.4" stroke="#c88558" stroke-width="1" fill="none" opacity="0.8"/>
<path d="M529.1,361.7 L558.9,362.7 L588.8,363.9" stroke="#e8a16a" stroke-width="1" fill="none" opacity="0.8"/>
<polygon points="641.1,363.8 670.1,344.6 698.9,325 709.7,332.4 680.7,351.7 651.3,369.2" fill="#b86c44"/>
<polygon points="641.1,363.8 648.8,358.7 659.3,365.1 651.3,369.2" fill="#1a0a04" opacity="0.28"/>
<polygon points="691.3,330.3 698.9,325 709.7,332.4 702,337.6" fill="#1a0a04" opacity="0.28"/>
<path d="M644.4,362.5 L671.2,344.9 L697.9,326.8" stroke="#b56942" stroke-width="1" fill="none" opacity="0.8"/>
<path d="M646.2,363.4 L673.7,345.2 L701.1,326.8" stroke="#a65d3a" stroke-width="1" fill="none" opacity="0.8"/>
<path d="M648.3,364 L675,346.4 L701.6,328.6" stroke="#b56a42" stroke-width="1" fill="none" opacity="0.8"/>
<path d="M647.6,366.5 L675.2,348.3 L702.7,330" stroke="#c6784b" stroke-width="1" fill="none" opacity="0.8"/>
<path d="M651.4,366 L676.4,349.5 L701.4,332.9" stroke="#b66a43" stroke-width="1" fill="none" opacity="0.8"/>
<path d="M650.2,367.9 L678.1,350.4 L705.8,331.9" stroke="#8f492d" stroke-width="1" fill="none" opacity="0.8"/>
<path d="M651.7,368.3 L679.2,351.8 L706.2,333.8" stroke="#c27449" stroke-width="1" fill="none" opacity="0.8"/>
<polygon points="671,355.9 704.9,355.3 738.4,353.2 732.9,365.7 698.3,363.6 664.8,365.8" fill="#894327"/>
<polygon points="671,355.9 680.1,356.3 673.7,365.2 664.8,365.8" fill="#1a0a04" opacity="0.28"/>
<polygon points="729.5,353.8 738.4,353.2 732.9,365.7 723.3,363.7" fill="#1a0a04" opacity="0.28"/>
<path d="M671.6,356.8 L704.6,355.9 L737.4,353.9" stroke="#6c2a17" stroke-width="1" fill="none" opacity="0.8"/>
<path d="M672.5,358.5 L704.1,357 L735.6,355.1" stroke="#c77749" stroke-width="1" fill="none" opacity="0.8"/>
<path d="M672.1,360.2 L703.1,358.2 L734.2,356.3" stroke="#833e24" stroke-width="1" fill="none" opacity="0.8"/>
<path d="M668.3,361.6 L699.7,359.6 L731.1,357.6" stroke="#a05734" stroke-width="1" fill="none" opacity="0.8"/>
<path d="M669.1,362.7 L699.6,360.7 L730.2,358.8" stroke="#8e482a" stroke-width="1" fill="none" opacity="0.8"/>
<path d="M667.4,363.9 L699.7,361.8 L732.5,361.8" stroke="#6d2c18" stroke-width="1" fill="none" opacity="0.8"/>
<path d="M668.5,365 L698.6,363 L729.5,363.7" stroke="#9e5533" stroke-width="1" fill="none" opacity="0.8"/>
<polygon points="782.5,372.2 810,347.2 838.4,326.2 849.6,335 822.2,360.2 794.3,383.4" fill="#bf753f"/>
<polygon points="782.5,372.2 789.8,365.6 801.9,377.8 794.3,383.4" fill="#1a0a04" opacity="0.28"/>
<polygon points="830.5,330.3 838.4,326.2 849.6,335 842.3,341.7" fill="#1a0a04" opacity="0.28"/>
<path d="M786.8,370.1 L811.5,347.6 L836.8,327.7" stroke="#b46b39" stroke-width="1" fill="none" opacity="0.8"/>
<path d="M787.4,372.9 L812.7,349.8 L838.5,328.1" stroke="#a35d30" stroke-width="1" fill="none" opacity="0.8"/>
<path d="M788.6,375.2 L813.8,352.4 L838.8,329.3" stroke="#fba860" stroke-width="1" fill="none" opacity="0.8"/>
<path d="M792.7,375 L817.7,352.2 L842.6,329.2" stroke="#ffb569" stroke-width="1" fill="none" opacity="0.8"/>
<path d="M793.9,377.3 L818,355.4 L842,333.2" stroke="#eb9a57" stroke-width="1" fill="none" opacity="0.8"/>
<path d="M792.5,380.9 L818.2,358.7 L843.5,335.4" stroke="#e49453" stroke-width="1" fill="none" opacity="0.8"/>
<path d="M794,382.3 L820.3,360.2 L846.1,336.5" stroke="#e89855" stroke-width="1" fill="none" opacity="0.8"/>
<polygon points="812.6,365 848.4,371.1 883.8,375.8 879,391 843.3,384.9 807.9,380.4" fill="#703622"/>
<polygon points="812.6,365 822.3,367.2 817.3,381.6 807.9,380.4" fill="#1a0a04" opacity="0.28"/>
<polygon points="874.4,374.6 883.8,375.8 879,391 869.4,388.9" fill="#1a0a04" opacity="0.28"/>
<path d="M817.3,367.4 L847.9,372.1 L878.2,376.1" stroke="#6a311f" stroke-width="1" fill="none" opacity="0.8"/>
<path d="M812.6,368.9 L847.1,374.1 L881.4,378.6" stroke="#a96641" stroke-width="1" fill="none" opacity="0.8"/>
<path d="M813.6,371.8 L846.9,376.1 L880.1,380.5" stroke="#6b321f" stroke-width="1" fill="none" opacity="0.8"/>
<path d="M815.8,374.2 L847.7,378.3 L879.8,382.6" stroke="#44110a" stroke-width="1" fill="none" opacity="0.8"/>
<path d="M815.2,376.2 L846.9,380.3 L878.7,384.7" stroke="#80432b" stroke-width="1" fill="none" opacity="0.8"/>
<path d="M814.6,378.2 L846.3,382.2 L878.3,387.1" stroke="#4a160d" stroke-width="1" fill="none" opacity="0.8"/>
<path d="M813.3,380.1 L845.5,384.2 L877.9,389.5" stroke="#572114" stroke-width="1" fill="none" opacity="0.8"/>
<polygon points="442.1,366.2 474.2,359 506.5,352.3 499.1,357.7 466.7,363.8 434.5,370.6" fill="#f0dcd2"/>
<path d="M442.4,366.4 L471.6,360 L500.8,353.9" stroke="#ebd8cf" stroke-width="1" fill="none" opacity="0.8"/>
<path d="M440.8,367.3 L471.7,360.8 L502.5,354.4" stroke="#f1ddd3" stroke-width="1" fill="none" opacity="0.8"/>
<path d="M440.2,368.2 L470,362 L499.7,355.8" stroke="#f0dcd2" stroke-width="1" fill="none" opacity="0.8"/>
<path d="M437,369.7 L466.3,363.5 L495.6,357.7" stroke="#fce6d9" stroke-width="1" fill="none" opacity="0.8"/>
<polygon points="544.6,349.2 575.1,335.9 605.8,323.1 614.7,323.8 584.3,337.2 554.5,353.3" fill="#e1bfab"/>
<path d="M549.8,347.7 L578.1,335.3 L606.5,323.2" stroke="#dab9a7" stroke-width="1" fill="none" opacity="0.8"/>
<path d="M549.1,349.3 L578.7,336.3 L608.3,323.4" stroke="#eecab2" stroke-width="1" fill="none" opacity="0.8"/>
<path d="M554.8,348.1 L580.8,336.7 L606.8,325.3" stroke="#e2c0ab" stroke-width="1" fill="none" opacity="0.8"/>
<path d="M553.7,352.1 L582.4,337.4 L611.5,324.6" stroke="#d4b4a4" stroke-width="1" fill="none" opacity="0.8"/>
<polygon points="574.3,340.7 607.9,339.2 642.3,340.8 636.7,352.6 602.3,351.2 567.9,349.9" fill="#df9b6b"/>
<polygon points="574.3,340.7 583,339.4 577.1,350.2 567.9,349.9" fill="#1a0a04" opacity="0.28"/>
<polygon points="633.2,340.3 642.3,340.8 636.7,352.6 627.6,352.3" fill="#1a0a04" opacity="0.28"/>
<path d="M575.2,340.9 L607.5,340.1 L640.3,341.5" stroke="#f4ad77" stroke-width="1" fill="none" opacity="0.8"/>
<path d="M573.8,341.9 L604.7,341.7 L636,343.1" stroke="#ce8d62" stroke-width="1" fill="none" opacity="0.8"/>
<path d="M575.3,342.4 L607.5,343.6 L639.7,345" stroke="#ffba7f" stroke-width="1" fill="none" opacity="0.8"/>
<path d="M573,344 L605.3,345.3 L637.6,346.7" stroke="#eda773" stroke-width="1" fill="none" opacity="0.8"/>
<path d="M573.3,345.7 L605.3,347 L637.3,348.4" stroke="#bd7e58" stroke-width="1" fill="none" opacity="0.8"/>
<path d="M572.3,347.4 L605,348.7 L637.8,350.1" stroke="#ffd28f" stroke-width="1" fill="none" opacity="0.8"/>
<path d="M570.2,349.1 L603.2,350.4 L636.1,351.8" stroke="#eda773" stroke-width="1" fill="none" opacity="0.8"/>
<polygon points="684.3,351.7 713.2,332.4 742,312.7 752.8,320.2 723.9,339.7 694.5,357.2" fill="#ad6139"/>
<polygon points="684.3,351.7 692,346.6 702.5,353.2 694.5,357.2" fill="#1a0a04" opacity="0.28"/>
<polygon points="734.4,318 742,312.7 752.8,320.2 745.1,325.4" fill="#1a0a04" opacity="0.28"/>
<path d="M686.5,351.2 L713.4,333.3 L740.3,315" stroke="#a45a34" stroke-width="1" fill="none" opacity="0.8"/>
<path d="M688.1,352.2 L715.6,333.9 L743,315.3" stroke="#ac6038" stroke-width="1" fill="none" opacity="0.8"/>
<path d="M691.7,351.9 L717.8,334.5 L743.9,316.9" stroke="#c67647" stroke-width="1" fill="none" opacity="0.8"/>
<path d="M691.9,353.8 L719.4,335.5 L746.9,316.9" stroke="#8f4728" stroke-width="1" fill="none" opacity="0.8"/>
<path d="M695.1,353.7 L720.9,336.5 L746.8,319.1" stroke="#a25833" stroke-width="1" fill="none" opacity="0.8"/>
<path d="M694.9,355.2 L720.8,338.6 L746.6,321.3" stroke="#a25733" stroke-width="1" fill="none" opacity="0.8"/>
<path d="M695.6,356.1 L723.1,339.2 L750.3,320.9" stroke="#803b20" stroke-width="1" fill="none" opacity="0.8"/>
<polygon points="714.2,343.8 748.1,343.4 781.6,341.4 776.2,354 741.5,351.8 708,353.8" fill="#8f492d"/>
<polygon points="714.2,343.8 723.3,344.3 716.9,353.3 708,353.8" fill="#1a0a04" opacity="0.28"/>
<polygon points="772.7,341.9 781.6,341.4 776.2,354 766.6,352" fill="#1a0a04" opacity="0.28"/>
<path d="M716.4,344.8 L747.6,344 L778.5,342.2" stroke="#8a452a" stroke-width="1" fill="none" opacity="0.8"/>
<path d="M715.6,346.5 L746,345.2 L776.4,343.4" stroke="#8c462b" stroke-width="1" fill="none" opacity="0.8"/>
<path d="M717.5,348.1 L748.1,346.2 L778.7,344.4" stroke="#b1653f" stroke-width="1" fill="none" opacity="0.8"/>
<path d="M712.2,349.6 L743.1,347.7 L774.1,345.9" stroke="#793621" stroke-width="1" fill="none" opacity="0.8"/>
<path d="M710.8,350.8 L742.6,348.8 L774.6,347.2" stroke="#c8794c" stroke-width="1" fill="none" opacity="0.8"/>
<path d="M714,351.8 L742.8,350 L772,349.2" stroke="#bb6e45" stroke-width="1" fill="none" opacity="0.8"/>
<path d="M708.8,353.2 L741.1,351.2 L774.3,352.3" stroke="#6b2a19" stroke-width="1" fill="none" opacity="0.8"/>
<polygon points="825.9,360.8 853.3,335.6 881.7,314.4 892.9,323.3 865.6,348.7 837.8,372.1" fill="#cb814b"/>
<polygon points="825.9,360.8 833.2,354.1 845.3,366.5 837.8,372.1" fill="#1a0a04" opacity="0.28"/>
<polygon points="873.8,318.5 881.7,314.4 892.9,323.3 885.7,330.1" fill="#1a0a04" opacity="0.28"/>
<path d="M828.8,359.9 L853.5,337.1 L878.8,316.5" stroke="#e6985a" stroke-width="1" fill="none" opacity="0.8"/>
<path d="M833,359.5 L856.6,337.7 L880.6,317" stroke="#ed9e5e" stroke-width="1" fill="none" opacity="0.8"/>
<path d="M832.7,363.2 L858.7,339.3 L884.8,316" stroke="#ffc174" stroke-width="1" fill="none" opacity="0.8"/>
<path d="M832.5,366.9 L859.5,342.1 L886.3,317" stroke="#ffbc71" stroke-width="1" fill="none" opacity="0.8"/>
<path d="M835,367.8 L860.4,344.8 L885.6,321.3" stroke="#9f5c33" stroke-width="1" fill="none" opacity="0.8"/>
<path d="M836.3,369.4 L861.9,346.9 L887.1,323.4" stroke="#a05c33" stroke-width="1" fill="none" opacity="0.8"/>
<path d="M839.3,369.7 L863.8,348.7 L887.9,326.2" stroke="#b06a3c" stroke-width="1" fill="none" opacity="0.8"/>
<polygon points="856,353.6 891.9,359.9 927.3,364.7 922.6,380.1 886.8,373.9 851.4,369.2" fill="#783e2a"/>
<polygon points="856,353.6 865.7,355.8 860.8,370.4 851.4,369.2" fill="#1a0a04" opacity="0.28"/>
<polygon points="917.9,363.4 927.3,364.7 922.6,380.1 913,378" fill="#1a0a04" opacity="0.28"/>
<path d="M860.1,355.9 L891.8,361 L923.4,365.3" stroke="#905337" stroke-width="1" fill="none" opacity="0.8"/>
<path d="M859.2,358.3 L892.7,363.2 L926.1,367.7" stroke="#753c28" stroke-width="1" fill="none" opacity="0.8"/>
<path d="M857.7,360.6 L888.8,364.7 L919.9,369" stroke="#5e281b" stroke-width="1" fill="none" opacity="0.8"/>
<path d="M857.3,362.7 L890.6,367.1 L924,371.7" stroke="#98593b" stroke-width="1" fill="none" opacity="0.8"/>
<path d="M855.8,364.6 L888.4,368.8 L921.1,373.4" stroke="#a16141" stroke-width="1" fill="none" opacity="0.8"/>
<path d="M853.3,366.3 L886.2,370.6 L919.3,375.6" stroke="#935539" stroke-width="1" fill="none" opacity="0.8"/>
<path d="M856.7,368.8 L888.8,373.1 L921.3,378.5" stroke="#5f291c" stroke-width="1" fill="none" opacity="0.8"/>
<polygon points="455.4,362.1 486.5,351 517.6,339.8 526.1,339 495.1,350.1 464.1,361.7" fill="#eae0da"/>
<path d="M461,360.4 L488.7,350.4 L516.4,340.4" stroke="#e7ddd8" stroke-width="1" fill="none" opacity="0.8"/>
<path d="M461.3,360.9 L489.3,350.8 L517.3,340.7" stroke="#e5dcd7" stroke-width="1" fill="none" opacity="0.8"/>
<path d="M462.5,361 L490.8,350.8 L519.1,340.6" stroke="#f2e7de" stroke-width="1" fill="none" opacity="0.8"/>
<path d="M464.5,361.1 L494.6,350 L524.7,339.2" stroke="#f6eae1" stroke-width="1" fill="none" opacity="0.8"/>
<polygon points="485.1,353.4 517.2,346.3 549.4,339.6 542.1,345.1 509.7,351.1 477.5,357.8" fill="#ecd8ce"/>
<path d="M487.2,353.1 L516.7,346.8 L546.4,340.6" stroke="#f9e3d5" stroke-width="1" fill="none" opacity="0.8"/>
<path d="M484.4,354.4 L514.9,348 L545.5,341.7" stroke="#e1cfc8" stroke-width="1" fill="none" opacity="0.8"/>
<path d="M482.1,355.6 L511.9,349.4 L541.6,343.3" stroke="#e8d5cc" stroke-width="1" fill="none" opacity="0.8"/>
<path d="M483.3,356.2 L511.4,350.4 L539.6,344.9" stroke="#ebd7cd" stroke-width="1" fill="none" opacity="0.8"/>
<polygon points="587.6,336.6 618.1,323.2 648.7,310.3 657.7,311.2 627.3,324.6 597.5,340.8" fill="#dfbda9"/>
<path d="M591.7,335.5 L619.2,323.4 L646.8,311.6" stroke="#dfbda9" stroke-width="1" fill="none" opacity="0.8"/>
<path d="M593.6,336 L621.6,323.7 L649.6,311.4" stroke="#e8c5ae" stroke-width="1" fill="none" opacity="0.8"/>
<path d="M594.4,337.5 L622.4,324.7 L650.4,312.3" stroke="#d9b8a6" stroke-width="1" fill="none" opacity="0.8"/>
<path d="M600.1,337.2 L628,323.6 L656.2,311.1" stroke="#debda9" stroke-width="1" fill="none" opacity="0.8"/>
<polygon points="617.3,328.1 651,326.8 685.4,328.4 679.8,340.4 645.4,338.9 611,337.4" fill="#d79363"/>
<polygon points="617.3,328.1 626,326.8 620.1,337.8 611,337.4" fill="#1a0a04" opacity="0.28"/>
<polygon points="676.3,327.9 685.4,328.4 679.8,340.4 670.7,340.1" fill="#1a0a04" opacity="0.28"/>
<path d="M620.6,328 L652,327.7 L683.9,329.2" stroke="#ad6f4c" stroke-width="1" fill="none" opacity="0.8"/>
<path d="M616.5,329.3 L648.6,329.3 L681.1,330.9" stroke="#de9967" stroke-width="1" fill="none" opacity="0.8"/>
<path d="M614.8,330.3 L648.5,331.1 L682.5,332.7" stroke="#bb7b54" stroke-width="1" fill="none" opacity="0.8"/>
<path d="M619.1,331.6 L649.6,332.9 L680.1,334.4" stroke="#dd9866" stroke-width="1" fill="none" opacity="0.8"/>
<path d="M614.6,333.1 L646.4,334.5 L678.2,336.1" stroke="#f4ab73" stroke-width="1" fill="none" opacity="0.8"/>
<path d="M615.9,334.9 L648.4,336.4 L681,337.9" stroke="#efa870" stroke-width="1" fill="none" opacity="0.8"/>
<path d="M614.1,336.6 L647,338.1 L680,339.6" stroke="#ffc382" stroke-width="1" fill="none" opacity="0.8"/>
<polygon points="727.5,339.7 756.4,320.2 785.1,300.4 796,308 767.1,327.6 737.7,345.3" fill="#b1653d"/>
<polygon points="727.5,339.7 735.1,334.5 745.7,341.2 737.7,345.3" fill="#1a0a04" opacity="0.28"/>
<polygon points="777.5,305.7 785.1,300.4 796,308 788.3,313.3" fill="#1a0a04" opacity="0.28"/>
<path d="M729.6,339.3 L756.3,321.3 L783,303" stroke="#b96b41" stroke-width="1" fill="none" opacity="0.8"/>
<path d="M732.1,339.7 L757.8,322.4 L783.5,304.9" stroke="#b2663e" stroke-width="1" fill="none" opacity="0.8"/>
<path d="M732.9,341.2 L760.8,322.4 L788.7,303.4" stroke="#b6693f" stroke-width="1" fill="none" opacity="0.8"/>
<path d="M734.5,342.2 L761.3,324.2 L788.1,306" stroke="#a35935" stroke-width="1" fill="none" opacity="0.8"/>
<path d="M734.3,343.9 L763.2,325 L791.9,305.5" stroke="#914a2b" stroke-width="1" fill="none" opacity="0.8"/>
<path d="M736.1,344.3 L763,327.2 L789.7,309.1" stroke="#b86b41" stroke-width="1" fill="none" opacity="0.8"/>
<path d="M738.2,344.4 L765.2,327.8 L791.9,309.8" stroke="#bd6f44" stroke-width="1" fill="none" opacity="0.8"/>
<polygon points="757.4,331.8 791.3,331.5 824.9,329.6 819.5,342.3 784.8,339.9 751.2,341.9" fill="#864024"/>
<polygon points="757.4,331.8 766.5,332.3 760.1,341.4 751.2,341.9" fill="#1a0a04" opacity="0.28"/>
<polygon points="816,330.1 824.9,329.6 819.5,342.3 809.9,340.2" fill="#1a0a04" opacity="0.28"/>
<path d="M761.1,332.9 L792.3,332 L823.2,330.2" stroke="#b4673d" stroke-width="1" fill="none" opacity="0.8"/>
<path d="M756.9,334.4 L789.5,333.3 L822,331.5" stroke="#894326" stroke-width="1" fill="none" opacity="0.8"/>
<path d="M760.1,336.2 L789.1,334.5 L818.1,332.8" stroke="#8d4628" stroke-width="1" fill="none" opacity="0.8"/>
<path d="M755.3,337.6 L787.3,335.7 L819.3,333.9" stroke="#99502e" stroke-width="1" fill="none" opacity="0.8"/>
<path d="M753.9,338.9 L784.8,337 L815.7,335.3" stroke="#c07144" stroke-width="1" fill="none" opacity="0.8"/>
<path d="M757.7,339.8 L786.8,338.1 L816.3,337.7" stroke="#91492a" stroke-width="1" fill="none" opacity="0.8"/>
<path d="M757,341 L787.2,339.2 L818.3,340.7" stroke="#74311a" stroke-width="1" fill="none" opacity="0.8"/>
<polygon points="498.4,349.3 529.4,338.1 560.5,326.9 569.1,326.1 538,337.3 507,348.9" fill="#e9dfd9"/>
<path d="M500.4,348.9 L529,338.6 L557.6,328.3" stroke="#ded6d3" stroke-width="1" fill="none" opacity="0.8"/>
<path d="M505.3,347.7 L533.5,337.5 L561.7,327.3" stroke="#f4e8df" stroke-width="1" fill="none" opacity="0.8"/>
<path d="M507.5,347.5 L535,337.6 L562.4,327.7" stroke="#f3e7df" stroke-width="1" fill="none" opacity="0.8"/>
<path d="M506.2,348.8 L536.4,337.6 L566.7,326.7" stroke="#e6dcd7" stroke-width="1" fill="none" opacity="0.8"/>
<polygon points="528,340.6 560.1,333.5 592.4,326.9 585.1,332.4 552.6,338.4 520.4,345.1" fill="#e7d3c9"/>
<path d="M530.5,340.3 L558.7,334.2 L586.9,328.4" stroke="#edd8cc" stroke-width="1" fill="none" opacity="0.8"/>
<path d="M529.9,341 L557.9,335.2 L586,329.5" stroke="#e3cfc7" stroke-width="1" fill="none" opacity="0.8"/>
<path d="M525.9,342.7 L554.8,336.7 L583.8,330.8" stroke="#f0dace" stroke-width="1" fill="none" opacity="0.8"/>
<path d="M523.3,344.1 L553.6,337.8 L584.1,331.9" stroke="#ead5ca" stroke-width="1" fill="none" opacity="0.8"/>
<polygon points="630.6,324 661.1,310.6 691.7,297.6 700.7,298.5 670.3,312 640.5,328.3" fill="#d7b5a1"/>
<path d="M636.1,322.3 L664.4,309.8 L692.8,297.6" stroke="#dbb9a3" stroke-width="1" fill="none" opacity="0.8"/>
<path d="M636.5,323.5 L665.2,310.8 L694,298.1" stroke="#d9b7a2" stroke-width="1" fill="none" opacity="0.8"/>
<path d="M638.7,324 L665.6,312 L692.5,300" stroke="#e2bea7" stroke-width="1" fill="none" opacity="0.8"/>
<path d="M641.9,325.5 L668.4,312.1 L695.3,300.2" stroke="#e2bea7" stroke-width="1" fill="none" opacity="0.8"/>
<polygon points="660.3,315.5 694,314.3 728.5,316.1 723,328.2 688.5,326.5 654,324.9" fill="#d28e5e"/>
<polygon points="660.3,315.5 669,314.2 663.2,325.3 654,324.9" fill="#1a0a04" opacity="0.28"/>
<polygon points="719.4,315.6 728.5,316.1 723,328.2 713.8,327.8" fill="#1a0a04" opacity="0.28"/>
<path d="M664.2,315.3 L693.6,315.1 L723.5,316.7" stroke="#eba36c" stroke-width="1" fill="none" opacity="0.8"/>
<path d="M662.8,316.2 L693.9,316.9 L725.2,318.6" stroke="#b7774f" stroke-width="1" fill="none" opacity="0.8"/>
<path d="M661.2,317.2 L693.3,318.7 L725.4,320.4" stroke="#eaa26b" stroke-width="1" fill="none" opacity="0.8"/>
<path d="M660,318.9 L690.5,320.4 L721.2,322" stroke="#c58357" stroke-width="1" fill="none" opacity="0.8"/>
<path d="M657.7,320.6 L688.8,322.1 L719.9,323.7" stroke="#e19b66" stroke-width="1" fill="none" opacity="0.8"/>
<path d="M657.3,322.4 L689.2,323.9 L721,325.5" stroke="#eaa26b" stroke-width="1" fill="none" opacity="0.8"/>
<path d="M658,324.2 L689.2,325.7 L720.5,327.2" stroke="#dc9764" stroke-width="1" fill="none" opacity="0.8"/>
<polygon points="770.6,327.6 799.5,308 828.2,288 839.1,295.8 810.3,315.5 781,333.4" fill="#bd7149"/>
<polygon points="770.6,327.6 778.3,322.4 788.9,329.2 781,333.4" fill="#1a0a04" opacity="0.28"/>
<polygon points="820.6,293.4 828.2,288 839.1,295.8 831.5,301.1" fill="#1a0a04" opacity="0.28"/>
<path d="M775.5,325.4 L800.6,308.4 L825.5,291.1" stroke="#a85f3d" stroke-width="1" fill="none" opacity="0.8"/>
<path d="M773.9,328.6 L800.6,310.5 L827.2,292.1" stroke="#da8a59" stroke-width="1" fill="none" opacity="0.8"/>
<path d="M777.5,328.2 L804.4,310 L831.1,291.6" stroke="#d18254" stroke-width="1" fill="none" opacity="0.8"/>
<path d="M778.5,329.7 L805.2,311.5 L832,293.2" stroke="#c5784d" stroke-width="1" fill="none" opacity="0.8"/>
<path d="M779.6,330.8 L806,313.2 L832.2,295.2" stroke="#d48455" stroke-width="1" fill="none" opacity="0.8"/>
<path d="M783.6,330.1 L810,312.6 L836.3,294.6" stroke="#c3764c" stroke-width="1" fill="none" opacity="0.8"/>
<path d="M784.8,330.7 L810.2,314.6 L835.3,297.4" stroke="#c4774d" stroke-width="1" fill="none" opacity="0.8"/>
<polygon points="800.6,319.8 834.6,319.5 868.2,317.7 862.8,330.6 828.1,328.1 794.5,330" fill="#944e32"/>
<polygon points="800.6,319.8 809.7,320.3 803.4,329.4 794.5,330" fill="#1a0a04" opacity="0.28"/>
<polygon points="859.3,318.2 868.2,317.7 862.8,330.6 853.2,328.4" fill="#1a0a04" opacity="0.28"/>
<path d="M800.3,320.6 L832,320.3 L863.4,318.6" stroke="#a05839" stroke-width="1" fill="none" opacity="0.8"/>
<path d="M802.6,322.5 L833.9,321.3 L865.1,319.7" stroke="#b96e47" stroke-width="1" fill="none" opacity="0.8"/>
<path d="M799.3,324.1 L831.2,322.6 L863,320.9" stroke="#7e3b26" stroke-width="1" fill="none" opacity="0.8"/>
<path d="M802.8,325.4 L831.7,323.8 L860.6,322.2" stroke="#924c31" stroke-width="1" fill="none" opacity="0.8"/>
<path d="M800.9,326.7 L831.4,325 L862,323.8" stroke="#b16642" stroke-width="1" fill="none" opacity="0.8"/>
<path d="M796.7,328.1 L827.6,326.3 L858.7,325.7" stroke="#ad6340" stroke-width="1" fill="none" opacity="0.8"/>
<path d="M799.1,329.1 L830.4,327.4 L862.6,329.3" stroke="#b26743" stroke-width="1" fill="none" opacity="0.8"/>
<polygon points="440.5,359.8 472.3,351.3 504.2,343.7 496.5,347.7 464.5,355.4 432.6,363.1" fill="#efebe9"/>
<path d="M442.4,359.2 L471.5,351.8 L500.7,344.8" stroke="#e3e1e2" stroke-width="1" fill="none" opacity="0.8"/>
<path d="M439.6,360.1 L468.2,353.1 L496.8,346.3" stroke="#f3eeeb" stroke-width="1" fill="none" opacity="0.8"/>
<path d="M437.1,361.2 L466.1,354.2 L495.2,347.2" stroke="#ebe8e7" stroke-width="1" fill="none" opacity="0.8"/>
<path d="M438.2,361.5 L466.8,354.6 L495.4,347.7" stroke="#e3e1e3" stroke-width="1" fill="none" opacity="0.8"/>
<polygon points="541.3,336.5 572.4,325.3 603.4,314.1 612,313.3 580.9,324.5 550,336.1" fill="#f8eee8"/>
<path d="M542.7,336.3 L573,325.4 L603.2,314.4" stroke="#fff5ed" stroke-width="1" fill="none" opacity="0.8"/>
<path d="M545.1,336 L574.5,325.4 L603.9,314.8" stroke="#fff7ee" stroke-width="1" fill="none" opacity="0.8"/>
<path d="M549.6,335 L578.3,324.6 L607,314.2" stroke="#fff5ec" stroke-width="1" fill="none" opacity="0.8"/>
<path d="M553,334.5 L580.5,324.4 L608,314.5" stroke="#fcf2ea" stroke-width="1" fill="none" opacity="0.8"/>
<polygon points="570.9,327.8 603.1,320.7 635.4,314.2 628,319.7 595.6,325.7 563.4,332.3" fill="#e5d1c7"/>
<path d="M572.1,327.8 L600.6,321.7 L629.3,315.8" stroke="#f2dcce" stroke-width="1" fill="none" opacity="0.8"/>
<path d="M568.1,329.3 L599.8,322.7 L631.5,316.2" stroke="#ddcac3" stroke-width="1" fill="none" opacity="0.8"/>
<path d="M570.3,329.6 L600,323.5 L629.7,317.6" stroke="#dcc9c2" stroke-width="1" fill="none" opacity="0.8"/>
<path d="M568.3,330.9 L598.1,324.7 L628,319.1" stroke="#f2dcce" stroke-width="1" fill="none" opacity="0.8"/>
<polygon points="673.6,311.4 704.1,297.9 734.7,284.9 743.7,285.8 713.3,299.4 683.6,315.8" fill="#dbb9a5"/>
<path d="M679.2,309.7 L705.4,298 L731.7,286.5" stroke="#d3b2a1" stroke-width="1" fill="none" opacity="0.8"/>
<path d="M680.9,310.3 L708.4,298.1 L735.9,285.8" stroke="#d3b3a1" stroke-width="1" fill="none" opacity="0.8"/>
<path d="M679.7,312.8 L708.2,299.6 L736.8,286.8" stroke="#ddbba6" stroke-width="1" fill="none" opacity="0.8"/>
<path d="M683.6,313.9 L710.8,299.8 L738.4,287.5" stroke="#d3b2a1" stroke-width="1" fill="none" opacity="0.8"/>
<polygon points="703.3,302.9 737.1,301.8 771.6,303.7 766.1,316 731.6,314.2 697,312.4" fill="#d79363"/>
<polygon points="703.3,302.9 712,301.6 706.2,312.8 697,312.4" fill="#1a0a04" opacity="0.28"/>
<polygon points="762.4,303.2 771.6,303.7 766.1,316 756.9,315.6" fill="#1a0a04" opacity="0.28"/>
<path d="M703.3,303.3 L735.9,302.6 L769.3,304.5" stroke="#e6a06b" stroke-width="1" fill="none" opacity="0.8"/>
<path d="M704.4,303.9 L736.8,304.5 L769.6,306.3" stroke="#bf7e56" stroke-width="1" fill="none" opacity="0.8"/>
<path d="M704.2,304.6 L736.1,306.3 L768.1,308.1" stroke="#fbb177" stroke-width="1" fill="none" opacity="0.8"/>
<path d="M700.1,306.2 L732.1,307.8 L764,309.7" stroke="#e29d69" stroke-width="1" fill="none" opacity="0.8"/>
<path d="M703.6,308.2 L734.8,309.8 L766.1,311.6" stroke="#af714d" stroke-width="1" fill="none" opacity="0.8"/>
<path d="M699.2,309.8 L731.5,311.4 L763.8,313.2" stroke="#c9875c" stroke-width="1" fill="none" opacity="0.8"/>
<path d="M698.1,311.5 L730.1,313.2 L762.1,314.9" stroke="#ffca87" stroke-width="1" fill="none" opacity="0.8"/>
<polygon points="813.8,315.6 842.6,295.8 871.3,275.7 882.2,283.6 853.5,303.5 824.2,321.4" fill="#ba6e46"/>
<polygon points="813.8,315.6 821.5,310.3 832.1,317.3 824.2,321.4" fill="#1a0a04" opacity="0.28"/>
<polygon points="863.7,281.1 871.3,275.7 882.2,283.6 874.6,288.9" fill="#1a0a04" opacity="0.28"/>
<path d="M818.5,313.5 L844.1,295.9 L869.5,278.1" stroke="#dd8c59" stroke-width="1" fill="none" opacity="0.8"/>
<path d="M819.4,315 L845.3,297.3 L871.1,279.3" stroke="#b46943" stroke-width="1" fill="none" opacity="0.8"/>
<path d="M817.8,318.2 L846.4,298.7 L874.8,278.9" stroke="#a35b3a" stroke-width="1" fill="none" opacity="0.8"/>
<path d="M821.4,317.9 L848.9,299.1 L876.2,280.1" stroke="#e6935e" stroke-width="1" fill="none" opacity="0.8"/>
<path d="M823.5,318.5 L849.2,301 L874.9,283.2" stroke="#df8d5a" stroke-width="1" fill="none" opacity="0.8"/>
<path d="M823.2,320 L849.6,302.9 L875.8,284.8" stroke="#e5925e" stroke-width="1" fill="none" opacity="0.8"/>
<path d="M824.8,320.5 L853,302.7 L880.9,283.5" stroke="#d68656" stroke-width="1" fill="none" opacity="0.8"/>
<polygon points="843.8,307.7 877.8,307.6 911.5,305.9 906.2,318.9 871.3,316.2 837.7,318" fill="#954f33"/>
<polygon points="843.8,307.7 852.9,308.3 846.6,317.5 837.7,318" fill="#1a0a04" opacity="0.28"/>
<polygon points="902.5,306.3 911.5,305.9 906.2,318.9 896.5,316.7" fill="#1a0a04" opacity="0.28"/>
<path d="M847.8,308.9 L878.4,308.2 L908.8,306.6" stroke="#9e5738" stroke-width="1" fill="none" opacity="0.8"/>
<path d="M843.2,310.4 L876.1,309.5 L908.8,307.8" stroke="#a85f3d" stroke-width="1" fill="none" opacity="0.8"/>
<path d="M845.9,312.3 L877.3,310.6 L908.7,309" stroke="#bc7149" stroke-width="1" fill="none" opacity="0.8"/>
<path d="M841.1,313.7 L872,312 L902.9,310.5" stroke="#7d3a26" stroke-width="1" fill="none" opacity="0.8"/>
<path d="M844.5,314.7 L873.6,313.1 L902.8,311.7" stroke="#d98958" stroke-width="1" fill="none" opacity="0.8"/>
<path d="M841.6,316 L872.1,314.4 L902.9,314.2" stroke="#823f28" stroke-width="1" fill="none" opacity="0.8"/>
<path d="M842.7,317.2 L873.7,315.5 L905.8,317.5" stroke="#b86d46" stroke-width="1" fill="none" opacity="0.8"/>
<polygon points="483.4,346.9 515.2,338.5 547.1,330.8 539.4,334.9 507.5,342.5 475.5,350.2" fill="#faf6f4"/>
<path d="M482.7,347.1 L511.9,339.5 L541.3,332.5" stroke="#f5f1f1" stroke-width="1" fill="none" opacity="0.8"/>
<path d="M480.7,347.7 L511.8,340.1 L542.9,332.7" stroke="#eceaec" stroke-width="1" fill="none" opacity="0.8"/>
<path d="M479.8,348.3 L509.2,341.3 L538.7,334.2" stroke="#fffffb" stroke-width="1" fill="none" opacity="0.8"/>
<path d="M479.7,348.9 L507.8,342.2 L536,335.4" stroke="#fffdf9" stroke-width="1" fill="none" opacity="0.8"/>
<polygon points="584.3,323.7 615.3,312.5 646.3,301.2 654.9,300.5 623.9,311.8 592.9,323.4" fill="#f4eae4"/>
<path d="M587.3,322.9 L616.7,312.3 L646.1,301.6" stroke="#eae2df" stroke-width="1" fill="none" opacity="0.8"/>
<path d="M590.2,322.5 L619.4,311.9 L648.5,301.3" stroke="#fbf0e8" stroke-width="1" fill="none" opacity="0.8"/>
<path d="M591.2,322.7 L620,312.3 L648.8,301.8" stroke="#f5ebe5" stroke-width="1" fill="none" opacity="0.8"/>
<path d="M595,322.1 L624,311.4 L653.1,300.9" stroke="#ede4e0" stroke-width="1" fill="none" opacity="0.8"/>
<polygon points="613.9,315 646,308 678.3,301.4 671,307 638.6,313 606.3,319.5" fill="#ebd7cd"/>
<path d="M614,315.2 L643.9,308.9 L673.9,302.8" stroke="#f8e2d5" stroke-width="1" fill="none" opacity="0.8"/>
<path d="M613,316.1 L641.7,310.2 L670.5,304.3" stroke="#efdacf" stroke-width="1" fill="none" opacity="0.8"/>
<path d="M614,316.7 L642.5,310.9 L670.9,305.1" stroke="#f2ddd1" stroke-width="1" fill="none" opacity="0.8"/>
<path d="M610.8,318.2 L640.8,312.1 L670.9,306.4" stroke="#ecd8ce" stroke-width="1" fill="none" opacity="0.8"/>
<polygon points="716.6,298.8 747.1,285.2 777.6,272.2 786.7,273.1 756.3,286.8 726.6,303.3" fill="#ddbba7"/>
<path d="M720.1,298 L747.7,285.6 L775.4,273.5" stroke="#e9c5ae" stroke-width="1" fill="none" opacity="0.8"/>
<path d="M724,297.7 L750.5,285.8 L776.9,273.9" stroke="#d3b3a2" stroke-width="1" fill="none" opacity="0.8"/>
<path d="M725.8,298.2 L753,286.1 L780.1,273.9" stroke="#eac6ae" stroke-width="1" fill="none" opacity="0.8"/>
<path d="M725.3,302.3 L754.7,286.8 L784.7,273.3" stroke="#ebc7af" stroke-width="1" fill="none" opacity="0.8"/>
<polygon points="746.3,290.3 780.1,289.3 814.7,291.4 809.2,303.8 774.6,301.8 740.1,299.8" fill="#d69262"/>
<polygon points="746.3,290.3 755,289 749.3,300.3 740.1,299.8" fill="#1a0a04" opacity="0.28"/>
<polygon points="805.5,290.8 814.7,291.4 809.2,303.8 800.1,303.3" fill="#1a0a04" opacity="0.28"/>
<path d="M749.6,290.2 L780,290.2 L811,292.1" stroke="#b87952" stroke-width="1" fill="none" opacity="0.8"/>
<path d="M747.1,291.3 L778.6,291.9 L810.4,293.9" stroke="#ffb87a" stroke-width="1" fill="none" opacity="0.8"/>
<path d="M746.6,292.1 L777.4,293.7 L808.4,295.6" stroke="#c48258" stroke-width="1" fill="none" opacity="0.8"/>
<path d="M746.8,293.8 L777.7,295.6 L808.6,297.5" stroke="#eca56e" stroke-width="1" fill="none" opacity="0.8"/>
<path d="M746.9,295.7 L778.8,297.5 L810.8,299.4" stroke="#ffb679" stroke-width="1" fill="none" opacity="0.8"/>
<path d="M744.7,297.4 L776.8,299.2 L809,301.1" stroke="#f0a870" stroke-width="1" fill="none" opacity="0.8"/>
<path d="M741,299 L774.7,300.9 L808.3,302.8" stroke="#ffc683" stroke-width="1" fill="none" opacity="0.8"/>
<polygon points="526.3,334 558.1,325.6 590.1,318 582.4,322.1 550.4,329.7 518.4,337.3" fill="#fcf8f6"/>
<path d="M529.7,333 L558.9,325.7 L588.3,318.7" stroke="#f1eef0" stroke-width="1" fill="none" opacity="0.8"/>
<path d="M525.2,334.4 L554.9,327.2 L584.6,320.1" stroke="#fffdf9" stroke-width="1" fill="none" opacity="0.8"/>
<path d="M522.8,335.4 L552.1,328.4 L581.4,321.4" stroke="#fefaf7" stroke-width="1" fill="none" opacity="0.8"/>
<path d="M520.9,336.5 L550.1,329.5 L579.3,322.5" stroke="#f0eeef" stroke-width="1" fill="none" opacity="0.8"/>
<polygon points="627.2,310.9 658.2,299.7 689.2,288.4 697.8,287.7 666.8,299 635.9,310.6" fill="#f2e8e2"/>
<path d="M629.2,310.5 L659.7,299.5 L690.1,288.4" stroke="#f1e7e1" stroke-width="1" fill="none" opacity="0.8"/>
<path d="M633,309.7 L661.2,299.5 L689.4,289.2" stroke="#eee5e0" stroke-width="1" fill="none" opacity="0.8"/>
<path d="M637.2,308.8 L664,299.1 L690.7,289.4" stroke="#e8dfdc" stroke-width="1" fill="none" opacity="0.8"/>
<path d="M634.8,310.6 L663.3,299.9 L692,289.5" stroke="#efe6e0" stroke-width="1" fill="none" opacity="0.8"/>
<polygon points="656.8,302.2 689,295.2 721.3,288.7 714,294.4 681.5,300.2 649.2,306.8" fill="#e1cdc3"/>
<path d="M656.8,302.5 L686.7,296.1 L716.7,290.1" stroke="#d8c5be" stroke-width="1" fill="none" opacity="0.8"/>
<path d="M655.9,303.3 L685.4,297.3 L715,291.3" stroke="#ddc9c1" stroke-width="1" fill="none" opacity="0.8"/>
<path d="M655.5,304.2 L683.6,298.5 L711.7,292.9" stroke="#e9d4c7" stroke-width="1" fill="none" opacity="0.8"/>
<path d="M653.5,305.5 L682.5,299.6 L711.6,294.1" stroke="#dcc8c0" stroke-width="1" fill="none" opacity="0.8"/>
<polygon points="759.6,286.2 790,272.6 820.6,259.5 829.6,260.5 799.3,274.2 769.6,290.7" fill="#dfbda9"/>
<path d="M764,285 L791.3,272.7 L818.8,260.7" stroke="#debca8" stroke-width="1" fill="none" opacity="0.8"/>
<path d="M766.8,285.2 L794.8,272.6 L822.9,260" stroke="#e5c2ac" stroke-width="1" fill="none" opacity="0.8"/>
<path d="M770.2,285.1 L798.1,272.5 L826,259.9" stroke="#d8b7a5" stroke-width="1" fill="none" opacity="0.8"/>
<path d="M772.8,286.5 L800.3,273 L828.1,260.4" stroke="#e7c4ad" stroke-width="1" fill="none" opacity="0.8"/>
<polygon points="789.3,277.7 823.1,276.8 857.8,279 852.4,291.6 817.7,289.5 783.1,287.3" fill="#d99565"/>
<polygon points="789.3,277.7 798,276.4 792.3,287.9 783.1,287.3" fill="#1a0a04" opacity="0.28"/>
<polygon points="848.6,278.4 857.8,279 852.4,291.6 843.2,291.1" fill="#1a0a04" opacity="0.28"/>
<path d="M789.2,278.1 L821.2,277.6 L853.9,279.7" stroke="#985e42" stroke-width="1" fill="none" opacity="0.8"/>
<path d="M792.3,278.4 L823.5,279.6 L855,281.7" stroke="#ffb77b" stroke-width="1" fill="none" opacity="0.8"/>
<path d="M791.6,279.5 L823.3,281.4 L855.1,283.5" stroke="#d18e61" stroke-width="1" fill="none" opacity="0.8"/>
<path d="M786.7,281.1 L818.7,283 L850.9,285.1" stroke="#b47651" stroke-width="1" fill="none" opacity="0.8"/>
<path d="M785.5,282.9 L819.5,284.9 L853.7,287.1" stroke="#fab278" stroke-width="1" fill="none" opacity="0.8"/>
<path d="M785.7,284.7 L818.7,286.7 L851.7,288.8" stroke="#f3ab73" stroke-width="1" fill="none" opacity="0.8"/>
<path d="M786.6,286.6 L818.5,288.6 L850.5,290.6" stroke="#ffd28d" stroke-width="1" fill="none" opacity="0.8"/>
<polygon points="569.2,321.1 601,312.7 633,305.1 625.3,309.2 593.3,316.8 561.3,324.5" fill="#f5f1ef"/>
<path d="M570.6,320.7 L599,313.5 L627.6,306.7" stroke="#eeebeb" stroke-width="1" fill="none" opacity="0.8"/>
<path d="M567,321.8 L596.4,314.7 L625.8,307.7" stroke="#f0edec" stroke-width="1" fill="none" opacity="0.8"/>
<path d="M568.8,321.8 L596.4,315.2 L623.9,308.7" stroke="#f2eeed" stroke-width="1" fill="none" opacity="0.8"/>
<path d="M564,323.5 L594.9,316.2 L625.7,308.9" stroke="#fffaf5" stroke-width="1" fill="none" opacity="0.8"/>
<polygon points="670.1,298.1 701.2,286.9 732.2,275.5 740.8,274.8 709.7,286.2 678.8,297.9" fill="#efe5df"/>
<path d="M672.9,297.4 L702.6,286.6 L732.4,275.8" stroke="#e7dedb" stroke-width="1" fill="none" opacity="0.8"/>
<path d="M677.7,296.3 L706.2,285.9 L734.7,275.5" stroke="#f0e6e0" stroke-width="1" fill="none" opacity="0.8"/>
<path d="M678.6,296.6 L706.8,286.3 L734.9,276" stroke="#efe5df" stroke-width="1" fill="none" opacity="0.8"/>
<path d="M679.7,297 L709.2,286.1 L738.7,275.3" stroke="#f8ede4" stroke-width="1" fill="none" opacity="0.8"/>
<polygon points="699.8,289.4 731.9,282.5 764.2,276 757,281.7 724.5,287.5 692.2,294" fill="#efdbd1"/>
<path d="M701.7,289.2 L731.8,282.9 L762,276.9" stroke="#fbe5d7" stroke-width="1" fill="none" opacity="0.8"/>
<path d="M697.9,290.7 L729.2,284.3 L760.6,278.1" stroke="#f3ded3" stroke-width="1" fill="none" opacity="0.8"/>
<path d="M699.3,291.3 L728,285.5 L756.6,279.8" stroke="#e4d2cb" stroke-width="1" fill="none" opacity="0.8"/>
<path d="M698.2,292.4 L727.6,286.4 L757,281" stroke="#ebd7cf" stroke-width="1" fill="none" opacity="0.8"/>
<polygon points="802.6,273.6 833,259.9 863.5,246.7 872.6,247.8 842.3,261.6 812.7,278.2" fill="#e5c3af"/>
<path d="M807.7,272.1 L834.3,260.1 L860.9,248.3" stroke="#d9b9a8" stroke-width="1" fill="none" opacity="0.8"/>
<path d="M810.3,272.3 L837.6,260 L864.9,247.7" stroke="#d7b7a7" stroke-width="1" fill="none" opacity="0.8"/>
<path d="M812.3,272.9 L838.4,261.1 L864.6,249.2" stroke="#d8b8a8" stroke-width="1" fill="none" opacity="0.8"/>
<path d="M813.4,275.7 L840,261.8 L867,249.6" stroke="#e0bfac" stroke-width="1" fill="none" opacity="0.8"/>
<polygon points="832.3,265.1 866.2,264.3 900.9,266.7 895.5,279.4 860.8,277.1 826.2,274.8" fill="#d49060"/>
<polygon points="832.3,265.1 841,263.8 835.4,275.4 826.2,274.8" fill="#1a0a04" opacity="0.28"/>
<polygon points="891.7,266 900.9,266.7 895.5,279.4 886.3,278.8" fill="#1a0a04" opacity="0.28"/>
<path d="M835.9,265 L866.7,265.3 L898,267.4" stroke="#eea66f" stroke-width="1" fill="none" opacity="0.8"/>
<path d="M835.3,265.8 L865,267 L894.9,269.1" stroke="#e7a16b" stroke-width="1" fill="none" opacity="0.8"/>
<path d="M830.8,267.2 L862.9,268.8 L895.1,271" stroke="#dc9764" stroke-width="1" fill="none" opacity="0.8"/>
<path d="M831.5,268.6 L863.3,270.7 L895.1,272.9" stroke="#c38157" stroke-width="1" fill="none" opacity="0.8"/>
<path d="M829.2,270.4 L860.7,272.4 L892.4,274.6" stroke="#c8865a" stroke-width="1" fill="none" opacity="0.8"/>
<path d="M827.9,272.1 L859.5,274.2 L891.2,276.4" stroke="#f3ab71" stroke-width="1" fill="none" opacity="0.8"/>
<path d="M830.3,274.2 L862.1,276.2 L894,278.4" stroke="#d28e5f" stroke-width="1" fill="none" opacity="0.8"/>
<polygon points="612.1,308.3 643.9,299.8 675.9,292.3 668.2,296.4 636.2,304 604.2,311.6" fill="#f5f1ef"/>
<path d="M615.3,307.3 L644.4,300 L673.5,293.1" stroke="#fffbf5" stroke-width="1" fill="none" opacity="0.8"/>
<path d="M610.6,308.7 L639.5,301.8 L668.4,294.9" stroke="#ece9ea" stroke-width="1" fill="none" opacity="0.8"/>
<path d="M609.4,309.5 L639.9,302.2 L670.4,295" stroke="#ebe9ea" stroke-width="1" fill="none" opacity="0.8"/>
<path d="M607.9,310.4 L637.6,303.4 L667.3,296.4" stroke="#f6f2f0" stroke-width="1" fill="none" opacity="0.8"/>
<polygon points="713.1,285.4 744.1,274 775.1,262.7 783.7,262 752.7,273.4 721.8,285.1" fill="#ebe1db"/>
<path d="M715.7,284.7 L745.1,274 L774.5,263.2" stroke="#f6eae1" stroke-width="1" fill="none" opacity="0.8"/>
<path d="M716.7,284.9 L746.5,274.1 L776.2,263.2" stroke="#f5e9e0" stroke-width="1" fill="none" opacity="0.8"/>
<path d="M721.3,283.9 L750.2,273.3 L779.2,262.7" stroke="#f9ede3" stroke-width="1" fill="none" opacity="0.8"/>
<path d="M721.2,284.8 L751.5,273.5 L781.9,262.4" stroke="#ddd5d3" stroke-width="1" fill="none" opacity="0.8"/>
<polygon points="742.7,276.6 774.9,269.7 807.2,263.3 799.9,269 767.5,274.8 735.1,281.2" fill="#e7d3c9"/>
<path d="M746.2,276.1 L775.5,270 L804.8,264.2" stroke="#e1cec6" stroke-width="1" fill="none" opacity="0.8"/>
<path d="M744,277.3 L774,271.2 L804,265.3" stroke="#d9c7c1" stroke-width="1" fill="none" opacity="0.8"/>
<path d="M741.4,278.7 L771.7,272.6 L802.1,266.7" stroke="#e8d4c9" stroke-width="1" fill="none" opacity="0.8"/>
<path d="M736.8,280.5 L767.2,274.4 L797.7,268.7" stroke="#f1dbce" stroke-width="1" fill="none" opacity="0.8"/>
<polygon points="655,295.4 686.8,287 718.8,279.4 711.1,283.6 679.1,291.1 647.1,298.7" fill="#f7f3f1"/>
<path d="M655.4,295.3 L684.9,287.7 L714.6,280.7" stroke="#fdf8f4" stroke-width="1" fill="none" opacity="0.8"/>
<path d="M652.3,296.2 L683.5,288.6 L714.7,281.3" stroke="#f4f0ef" stroke-width="1" fill="none" opacity="0.8"/>
<path d="M652.6,296.5 L682.6,289.4 L712.6,282.4" stroke="#fcf7f4" stroke-width="1" fill="none" opacity="0.8"/>
<path d="M649.4,297.9 L678.4,291 L707.4,284.2" stroke="#f3f0ef" stroke-width="1" fill="none" opacity="0.8"/>
<polygon points="756,272.6 787,261.2 818,249.8 826.6,249.2 795.6,260.6 764.7,272.3" fill="#ebe1db"/>
<path d="M757.5,272.3 L788,261.2 L818.4,250" stroke="#e3dad7" stroke-width="1" fill="none" opacity="0.8"/>
<path d="M763.6,270.7 L791.4,260.5 L819.1,250.4" stroke="#e9e0da" stroke-width="1" fill="none" opacity="0.8"/>
<path d="M766.2,270.4 L792.4,260.8 L818.6,251.2" stroke="#f2e7df" stroke-width="1" fill="none" opacity="0.8"/>
<path d="M764.8,271.8 L794.3,260.7 L823.9,249.9" stroke="#ebe1db" stroke-width="1" fill="none" opacity="0.8"/>
<polygon points="785.6,263.8 817.8,257 850.2,250.6 842.9,256.3 810.4,262.1 778.1,268.5" fill="#e4d0c6"/>
<path d="M786.5,263.9 L817.3,257.5 L848.1,251.4" stroke="#dcc9c2" stroke-width="1" fill="none" opacity="0.8"/>
<path d="M786.6,264.5 L815.4,258.8 L844.2,253.1" stroke="#e2cec5" stroke-width="1" fill="none" opacity="0.8"/>
<path d="M783.3,266.1 L812.8,260.2 L842.3,254.4" stroke="#e9d4c8" stroke-width="1" fill="none" opacity="0.8"/>
<path d="M779.1,267.8 L809.2,261.8 L839.4,256.2" stroke="#e3cfc5" stroke-width="1" fill="none" opacity="0.8"/>
<polygon points="697.9,282.5 729.7,274.1 761.7,266.6 754.1,270.8 722,278.3 690,285.8" fill="#f5f1ef"/>
<path d="M701.8,281.3 L729.3,274.5 L756.9,268" stroke="#f1eeed" stroke-width="1" fill="none" opacity="0.8"/>
<path d="M695,283.4 L725.8,275.9 L756.6,268.7" stroke="#f3f0ee" stroke-width="1" fill="none" opacity="0.8"/>
<path d="M694.8,283.8 L725.6,276.5 L756.4,269.3" stroke="#f7f3f0" stroke-width="1" fill="none" opacity="0.8"/>
<path d="M692.3,285 L721.7,278.1 L751.1,271.2" stroke="#f6f2f0" stroke-width="1" fill="none" opacity="0.8"/>
<polygon points="798.9,259.8 829.9,248.4 860.9,237 869.5,236.4 838.6,247.8 807.7,259.6" fill="#ece2dc"/>
<path d="M804.1,258.2 L832,248 L859.8,237.7" stroke="#e1d8d6" stroke-width="1" fill="none" opacity="0.8"/>
<path d="M803.6,259 L833.7,248 L863.9,236.9" stroke="#eae1db" stroke-width="1" fill="none" opacity="0.8"/>
<path d="M808.9,257.7 L835.2,248 L861.6,238.3" stroke="#f1e6df" stroke-width="1" fill="none" opacity="0.8"/>
<path d="M807.3,259.2 L837.3,247.9 L867.3,236.9" stroke="#e4dbd8" stroke-width="1" fill="none" opacity="0.8"/>
<polygon points="828.6,251 860.8,244.2 893.1,237.8 885.9,243.7 853.4,249.3 821,255.7" fill="#e6d2c8"/>
<path d="M830.9,250.8 L861.5,244.5 L892.1,238.5" stroke="#e5d1c8" stroke-width="1" fill="none" opacity="0.8"/>
<path d="M827.9,252.1 L857.4,246.2 L886.9,240.5" stroke="#efd9cd" stroke-width="1" fill="none" opacity="0.8"/>
<path d="M825.9,253.4 L855.6,247.5 L885.4,241.7" stroke="#dfccc4" stroke-width="1" fill="none" opacity="0.8"/>
<path d="M824.3,254.6 L853.8,248.8 L883.4,243.3" stroke="#d9c7c1" stroke-width="1" fill="none" opacity="0.8"/>
<polygon points="740.8,269.6 772.6,261.2 804.7,253.7 797,258 765,265.4 732.9,272.9" fill="#f8f4f2"/>
<path d="M742.4,269.1 L772.5,261.6 L802.7,254.5" stroke="#f1eeee" stroke-width="1" fill="none" opacity="0.8"/>
<path d="M742,269.3 L771,262.5 L800,255.7" stroke="#f0edee" stroke-width="1" fill="none" opacity="0.8"/>
<path d="M737.3,271 L767.2,264 L797.2,257" stroke="#f5f2f1" stroke-width="1" fill="none" opacity="0.8"/>
<path d="M735.7,272 L766,264.9 L796.3,257.8" stroke="#f0eeee" stroke-width="1" fill="none" opacity="0.8"/>
<polygon points="783.7,256.7 815.5,248.4 847.6,240.9 839.9,245.1 807.9,252.6 775.8,260.1" fill="#f8f4f2"/>
<path d="M785.8,256.1 L815.9,248.6 L846.2,241.5" stroke="#fbf6f3" stroke-width="1" fill="none" opacity="0.8"/>
<path d="M782.2,257.1 L810.9,250.3 L839.6,243.7" stroke="#fffff9" stroke-width="1" fill="none" opacity="0.8"/>
<path d="M779.4,258.3 L809.3,251.3 L839.2,244.4" stroke="#f4f0f0" stroke-width="1" fill="none" opacity="0.8"/>
<path d="M777.4,259.4 L806.9,252.5 L836.3,245.7" stroke="#fffef8" stroke-width="1" fill="none" opacity="0.8"/>
<polygon points="826.6,243.8 858.4,235.5 890.5,228 882.8,232.3 850.8,239.7 818.8,247.2" fill="#fdf9f7"/>
<path d="M828.9,243.1 L856.6,236.2 L884.5,229.7" stroke="#fffaf8" stroke-width="1" fill="none" opacity="0.8"/>
<path d="M827,243.7 L855.6,237.1 L884.2,230.4" stroke="#fffffd" stroke-width="1" fill="none" opacity="0.8"/>
<path d="M826,244.6 L855.1,237.8 L884.1,231.1" stroke="#f5f2f3" stroke-width="1" fill="none" opacity="0.8"/>
<path d="M822.5,246 L851.6,239.2 L880.8,232.5" stroke="#f9f6f5" stroke-width="1" fill="none" opacity="0.8"/>
</g></g>
<path d="M533,395.5 L560,387 L600,375.3 L646.7,364 L693,351.7 L740,340.5 L792,327" stroke="#f4e2be" stroke-width="1.9" fill="none" stroke-dasharray="27 14" stroke-dashoffset="6" clip-path="url(#cBraid)" filter="url(#fSoft)"/>
<g mask="url(#mRight)"><ellipse cx="808.4" cy="363.9" rx="28.8585" ry="97.46549999999999" transform="rotate(-14.7 808.4 363.9)" fill="url(#gHole)" stroke="#0f0a08" stroke-width="1.6"/></g>
<g clip-path="url(#cBody)">
<path d="M742,275 L800,264 L826,300 L804,304 L784,289 L744,292 Z" fill="#120c0a" opacity="0.7" filter="url(#fBlur3)" clip-path="url(#cBraid)"/>
<path d="M796,474 L846,452 L850,440 L830,446 L792,462 Z" fill="#120c0a" opacity="0.5" filter="url(#fBlur3)" clip-path="url(#cBraid)"/>
</g>
<ellipse cx="821" cy="316.5" rx="11" ry="2.2" transform="rotate(-14 821 316.5)" fill="#e8822c" opacity="0.75" filter="url(#fBlur1)"/>
<g clip-path="url(#cFace)"><path d="M700,150 L900,150 L900,272 L806,272 L794,271.2 L771,270.2 L746.7,274.6 L700,283 Z" fill="url(#gFace)"/><path d="M760,482 L799,471 L846,449.5 L900,440 L900,560 L760,560 Z" fill="url(#gFace)"/></g>
<g clip-path="url(#cRight)"><ellipse cx="808.4" cy="363.9" rx="47.1" ry="160.5" transform="rotate(-14.7 808.4 363.9)" fill="none" stroke="#3b3b3b" stroke-width="1.3"/></g>
<path d="M376,382.5 L501.5,348 A22,93.4 -14.4 0 1 548,529 L424,559 A22.5,91.4 -15.2 0 0 376,382.5 Z" fill="url(#gSilver)"/>
<path d="M376,382.5 A22.5,91.4 -15.2 0 1 424,559" fill="none" stroke="#484848" stroke-width="1.3" opacity="0.95"/>
<path d="M501.5,348 A22,93.4 -14.4 0 1 548,529" fill="none" stroke="#4a4038" stroke-width="1.3" opacity="0.85"/>
<path d="M288,413 L376,382.5 A22.5,91.4 -15.2 0 1 424,559 L328,583 Z" fill="url(#gPE)"/>
<ellipse cx="400" cy="470.75" rx="21.5" ry="90.5" transform="rotate(-15.2 400 470.75)" fill="url(#gRing)" opacity="0.85" filter="url(#fSoft)"/>
<path d="M312,470 L418,443 L428,497 L322,522 Z" fill="#d2d2d2" opacity="0.62" filter="url(#fBlur3)"/>
<path d="M376,382.5 A22.5,91.4 -15.2 0 0 378.5,452" fill="none" stroke="#c4c4c4" stroke-width="1.2" opacity="0.35"/>
<ellipse cx="300.5" cy="498" rx="19.5" ry="90" transform="rotate(-14.3 300.5 498)" fill="url(#gCap)"/>
<path d="M279,411 A19.5,90 -14.3 0 1 322,585" fill="none" stroke="#d0d0d0" stroke-width="1.3"/>
<path d="M292,475 L312,470 L322,514.5 L306.5,520 Z" fill="url(#gPink)" filter="url(#fBlur1)"/>
<g clip-path="url(#cCore)"><rect x="140" y="460" width="180" height="110" fill="#cf7226"/><g filter="url(#fSoft)"><path d="M120.6,541.0 L280.3,420.6" stroke="#180502" stroke-width="1.95"/><path d="M121.5,542.1 L281.2,421.8" stroke="#c83a10" stroke-width="1.25"/><path d="M122.1,543.0 L281.8,422.6" stroke="#f0701e" stroke-width="1.25"/><path d="M122.9,544.0 L282.6,423.6" stroke="#fdecb6" stroke-width="1.55"/><path d="M123.6,545.0 L283.3,424.6" stroke="#f28a2a" stroke-width="1.15"/><path d="M124.4,546.1 L284.2,425.7" stroke="#180502" stroke-width="1.95"/><path d="M125.3,547.2 L285.0,426.9" stroke="#c83a10" stroke-width="1.25"/><path d="M126.0,548.1 L285.7,427.8" stroke="#f0701e" stroke-width="1.25"/><path d="M126.7,549.1 L286.5,428.8" stroke="#fdecb6" stroke-width="1.55"/><path d="M127.4,550.1 L287.2,429.7" stroke="#f28a2a" stroke-width="1.15"/><path d="M128.3,551.2 L288.0,430.8" stroke="#180502" stroke-width="1.95"/><path d="M129.2,552.3 L288.9,432.0" stroke="#c83a10" stroke-width="1.25"/><path d="M129.8,553.2 L289.6,432.9" stroke="#f0701e" stroke-width="1.25"/><path d="M130.6,554.2 L290.3,433.9" stroke="#fdecb6" stroke-width="1.55"/><path d="M131.3,555.2 L291.0,434.8" stroke="#f28a2a" stroke-width="1.15"/><path d="M132.1,556.3 L291.9,435.9" stroke="#180502" stroke-width="1.95"/><path d="M133.0,557.5 L292.7,437.1" stroke="#c83a10" stroke-width="1.25"/><path d="M133.7,558.3 L293.4,438.0" stroke="#f0701e" stroke-width="1.25"/><path d="M134.4,559.3 L294.2,439.0" stroke="#fdecb6" stroke-width="1.55"/><path d="M135.2,560.3 L294.9,439.9" stroke="#f28a2a" stroke-width="1.15"/><path d="M136.0,561.4 L295.7,441.1" stroke="#180502" stroke-width="1.95"/><path d="M136.9,562.6 L296.6,442.2" stroke="#c83a10" stroke-width="1.25"/><path d="M137.5,563.5 L297.3,443.1" stroke="#f0701e" stroke-width="1.25"/><path d="M138.3,564.4 L298.0,444.1" stroke="#fdecb6" stroke-width="1.55"/><path d="M139.0,565.4 L298.7,445.0" stroke="#f28a2a" stroke-width="1.15"/><path d="M139.8,566.5 L299.6,446.2" stroke="#180502" stroke-width="1.95"/><path d="M140.7,567.7 L300.4,447.3" stroke="#c83a10" stroke-width="1.25"/><path d="M141.4,568.6 L301.1,448.2" stroke="#f0701e" stroke-width="1.25"/><path d="M142.1,569.6 L301.9,449.2" stroke="#fdecb6" stroke-width="1.55"/><path d="M142.9,570.5 L302.6,450.2" stroke="#f28a2a" stroke-width="1.15"/><path d="M143.7,571.6 L303.4,451.3" stroke="#180502" stroke-width="1.95"/><path d="M144.6,572.8 L304.3,452.4" stroke="#c83a10" stroke-width="1.25"/><path d="M145.2,573.7 L305.0,453.3" stroke="#f0701e" stroke-width="1.25"/><path d="M146.0,574.7 L305.7,454.3" stroke="#fdecb6" stroke-width="1.55"/><path d="M146.7,575.6 L306.4,455.3" stroke="#f28a2a" stroke-width="1.15"/><path d="M147.5,576.7 L307.3,456.4" stroke="#180502" stroke-width="1.95"/><path d="M148.4,577.9 L308.1,457.5" stroke="#c83a10" stroke-width="1.25"/><path d="M149.1,578.8 L308.8,458.4" stroke="#f0701e" stroke-width="1.25"/><path d="M149.8,579.8 L309.6,459.4" stroke="#fdecb6" stroke-width="1.55"/><path d="M150.6,580.7 L310.3,460.4" stroke="#f28a2a" stroke-width="1.15"/><path d="M151.4,581.9 L311.1,461.5" stroke="#180502" stroke-width="1.95"/><path d="M152.3,583.0 L312.0,462.7" stroke="#c83a10" stroke-width="1.25"/><path d="M152.9,583.9 L312.7,463.5" stroke="#f0701e" stroke-width="1.25"/><path d="M153.7,584.9 L313.4,464.5" stroke="#fdecb6" stroke-width="1.55"/><path d="M154.4,585.9 L314.1,465.5" stroke="#f28a2a" stroke-width="1.15"/><path d="M155.3,587.0 L315.0,466.6" stroke="#180502" stroke-width="1.95"/><path d="M156.1,588.1 L315.9,467.8" stroke="#c83a10" stroke-width="1.25"/><path d="M156.8,589.0 L316.5,468.6" stroke="#f0701e" stroke-width="1.25"/><path d="M157.5,590.0 L317.3,469.6" stroke="#fdecb6" stroke-width="1.55"/><path d="M158.3,591.0 L318.0,470.6" stroke="#f28a2a" stroke-width="1.15"/><path d="M159.1,592.1 L318.8,471.7" stroke="#180502" stroke-width="1.95"/><path d="M160.0,593.2 L319.7,472.9" stroke="#c83a10" stroke-width="1.25"/><path d="M160.6,594.1 L320.4,473.8" stroke="#f0701e" stroke-width="1.25"/><path d="M161.4,595.1 L321.1,474.8" stroke="#fdecb6" stroke-width="1.55"/><path d="M162.1,596.1 L321.8,475.7" stroke="#f28a2a" stroke-width="1.15"/><path d="M163.0,597.2 L322.7,476.8" stroke="#180502" stroke-width="1.95"/><path d="M163.8,598.4 L323.6,478.0" stroke="#c83a10" stroke-width="1.25"/><path d="M164.5,599.2 L324.2,478.9" stroke="#f0701e" stroke-width="1.25"/><path d="M165.2,600.2 L325.0,479.9" stroke="#fdecb6" stroke-width="1.55"/><path d="M166.0,601.2 L325.7,480.8" stroke="#f28a2a" stroke-width="1.15"/><path d="M166.8,602.3 L326.5,481.9" stroke="#180502" stroke-width="1.95"/><path d="M167.7,603.5 L327.4,483.1" stroke="#c83a10" stroke-width="1.25"/><path d="M168.3,604.3 L328.1,484.0" stroke="#f0701e" stroke-width="1.25"/><path d="M169.1,605.3 L328.8,485.0" stroke="#fdecb6" stroke-width="1.55"/><path d="M169.8,606.3 L329.5,485.9" stroke="#f28a2a" stroke-width="1.15"/><path d="M170.7,607.4 L330.4,487.1" stroke="#180502" stroke-width="1.95"/><path d="M171.5,608.6 L331.3,488.2" stroke="#c83a10" stroke-width="1.25"/><path d="M172.2,609.5 L331.9,489.1" stroke="#f0701e" stroke-width="1.25"/><path d="M172.9,610.4 L332.7,490.1" stroke="#fdecb6" stroke-width="1.55"/><path d="M173.7,611.4 L333.4,491.0" stroke="#f28a2a" stroke-width="1.15"/><path d="M174.5,612.5 L334.2,492.2" stroke="#180502" stroke-width="1.95"/><path d="M175.4,613.7 L335.1,493.3" stroke="#c83a10" stroke-width="1.25"/><path d="M176.0,614.6 L335.8,494.2" stroke="#f0701e" stroke-width="1.25"/><path d="M176.8,615.6 L336.5,495.2" stroke="#fdecb6" stroke-width="1.55"/><path d="M177.5,616.5 L337.2,496.2" stroke="#f28a2a" stroke-width="1.15"/><path d="M178.4,617.6 L338.1,497.3" stroke="#180502" stroke-width="1.95"/><path d="M179.2,618.8 L339.0,498.4" stroke="#c83a10" stroke-width="1.25"/><path d="M179.9,619.7 L339.6,499.3" stroke="#f0701e" stroke-width="1.25"/><path d="M180.6,620.7 L340.4,500.3" stroke="#fdecb6" stroke-width="1.55"/><path d="M181.4,621.6 L341.1,501.3" stroke="#f28a2a" stroke-width="1.15"/></g><rect x="140" y="460" width="180" height="110" fill="url(#gCoreShade)"/></g>
<rect x="225" y="515" width="4" height="195.79999999999995" fill="#0f9dea"/>
<circle cx="226.8" cy="515" r="10" fill="#0f9dea"/>
<rect x="365.7" y="485.8" width="4" height="224.99999999999994" fill="#0f9dea"/>
<circle cx="367.5" cy="485.8" r="10" fill="#0f9dea"/>
<rect x="700" y="407" width="4" height="303.79999999999995" fill="#0f9dea"/>
<circle cx="700" cy="407" r="10" fill="#0f9dea"/>
<rect x="971" y="340" width="4" height="370.79999999999995" fill="#0f9dea"/>
<circle cx="971.2" cy="340" r="10" fill="#0f9dea"/>
<g opacity="0.996">
<text x="35.6" y="782.2" textLength="258" lengthAdjust="spacingAndGlyphs" class="t">Pure copper core</text>
<text x="358" y="789.5" textLength="41.5" lengthAdjust="spacingAndGlyphs" class="t">PE</text>
<text x="495.2" y="789.6" textLength="345.5" lengthAdjust="spacingAndGlyphs" class="t">Aluminum foil weaving</text>
<text x="907.3" y="788.5" textLength="143" lengthAdjust="spacingAndGlyphs" class="t">PVC shell</text>
</g>
</svg>
</body></html>
